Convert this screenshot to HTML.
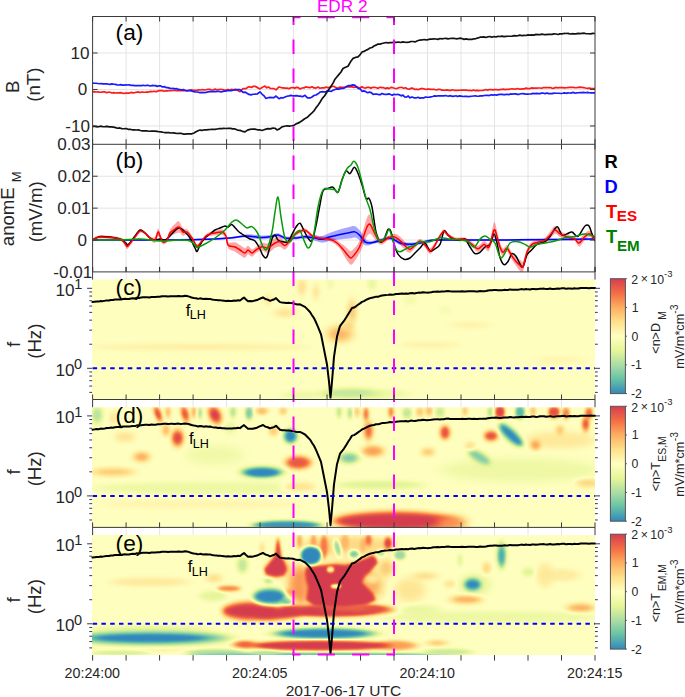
<!DOCTYPE html><html><head><meta charset="utf-8"><style>html,body{margin:0;padding:0;background:#fff;overflow:hidden}svg{display:block}</style></head><body>
<svg width="685" height="697" viewBox="0 0 685 697">
<defs>
<filter id="cmap" x="0" y="0" width="1" height="1" color-interpolation-filters="sRGB"><feComponentTransfer><feFuncR type="table" tableValues="0.1961 0.4000 0.6706 0.9020 1.0000 0.9961 0.9922 0.9569 0.8353"/><feFuncG type="table" tableValues="0.5333 0.7608 0.8667 0.9608 1.0000 0.8784 0.6824 0.4275 0.2431"/><feFuncB type="table" tableValues="0.7412 0.6471 0.6431 0.5961 0.7490 0.5451 0.3804 0.2627 0.3098"/></feComponentTransfer></filter>
<linearGradient id="cbar" x1="0" y1="1" x2="0" y2="0"><stop offset="0.0000" stop-color="#3288bd"/><stop offset="0.1250" stop-color="#66c2a5"/><stop offset="0.2500" stop-color="#abdda4"/><stop offset="0.3750" stop-color="#e6f598"/><stop offset="0.5000" stop-color="#ffffbf"/><stop offset="0.6250" stop-color="#fee08b"/><stop offset="0.7500" stop-color="#fdae61"/><stop offset="0.8750" stop-color="#f46d43"/><stop offset="1.0000" stop-color="#d53e4f"/></linearGradient>
<clipPath id="clip0"><rect x="92.1" y="279.6" width="502.9" height="120"/></clipPath>
<clipPath id="clip1"><rect x="92.1" y="407.2" width="502.9" height="120"/></clipPath>
<clipPath id="clip2"><rect x="92.1" y="535.1" width="502.9" height="120"/></clipPath>
<clipPath id="clipAB"><rect x="92.6" y="16.5" width="502.4" height="255.4"/></clipPath>
<filter id="b6_2" x="-100%" y="-100%" width="300%" height="300%" color-interpolation-filters="sRGB"><feGaussianBlur stdDeviation="6 2"/></filter>
<filter id="b4_2" x="-100%" y="-100%" width="300%" height="300%" color-interpolation-filters="sRGB"><feGaussianBlur stdDeviation="4 2"/></filter>
<filter id="b2_3" x="-100%" y="-100%" width="300%" height="300%" color-interpolation-filters="sRGB"><feGaussianBlur stdDeviation="2 3"/></filter>
<filter id="b2_2" x="-100%" y="-100%" width="300%" height="300%" color-interpolation-filters="sRGB"><feGaussianBlur stdDeviation="2 2"/></filter>
<filter id="b4_3" x="-100%" y="-100%" width="300%" height="300%" color-interpolation-filters="sRGB"><feGaussianBlur stdDeviation="4 3"/></filter>
<filter id="b2_4" x="-100%" y="-100%" width="300%" height="300%" color-interpolation-filters="sRGB"><feGaussianBlur stdDeviation="2 4"/></filter>
<filter id="b5_2" x="-100%" y="-100%" width="300%" height="300%" color-interpolation-filters="sRGB"><feGaussianBlur stdDeviation="5 2"/></filter>
<filter id="b8_2" x="-100%" y="-100%" width="300%" height="300%" color-interpolation-filters="sRGB"><feGaussianBlur stdDeviation="8 2"/></filter>
<filter id="b8_4" x="-100%" y="-100%" width="300%" height="300%" color-interpolation-filters="sRGB"><feGaussianBlur stdDeviation="8 4"/></filter>
<filter id="b5_4" x="-100%" y="-100%" width="300%" height="300%" color-interpolation-filters="sRGB"><feGaussianBlur stdDeviation="5 4"/></filter>
<filter id="b5_3" x="-100%" y="-100%" width="300%" height="300%" color-interpolation-filters="sRGB"><feGaussianBlur stdDeviation="5 3"/></filter>
<filter id="b3_2" x="-100%" y="-100%" width="300%" height="300%" color-interpolation-filters="sRGB"><feGaussianBlur stdDeviation="3 2"/></filter>
<filter id="b1p5_3" x="-100%" y="-100%" width="300%" height="300%" color-interpolation-filters="sRGB"><feGaussianBlur stdDeviation="1.5 3"/></filter>
<filter id="b1p5_2" x="-100%" y="-100%" width="300%" height="300%" color-interpolation-filters="sRGB"><feGaussianBlur stdDeviation="1.5 2"/></filter>
<filter id="b2_1p5" x="-100%" y="-100%" width="300%" height="300%" color-interpolation-filters="sRGB"><feGaussianBlur stdDeviation="2 1.5"/></filter>
<filter id="b1p5_1p5" x="-100%" y="-100%" width="300%" height="300%" color-interpolation-filters="sRGB"><feGaussianBlur stdDeviation="1.5 1.5"/></filter>
<filter id="b3_1p5" x="-100%" y="-100%" width="300%" height="300%" color-interpolation-filters="sRGB"><feGaussianBlur stdDeviation="3 1.5"/></filter>
<filter id="b2p5_2" x="-100%" y="-100%" width="300%" height="300%" color-interpolation-filters="sRGB"><feGaussianBlur stdDeviation="2.5 2"/></filter>
<filter id="b4_1p5" x="-100%" y="-100%" width="300%" height="300%" color-interpolation-filters="sRGB"><feGaussianBlur stdDeviation="4 1.5"/></filter>
<filter id="b5_2p5" x="-100%" y="-100%" width="300%" height="300%" color-interpolation-filters="sRGB"><feGaussianBlur stdDeviation="5 2.5"/></filter>
<filter id="b4_4" x="-100%" y="-100%" width="300%" height="300%" color-interpolation-filters="sRGB"><feGaussianBlur stdDeviation="4 4"/></filter>
<filter id="b6_1p5" x="-100%" y="-100%" width="300%" height="300%" color-interpolation-filters="sRGB"><feGaussianBlur stdDeviation="6 1.5"/></filter>
<filter id="b8_1p5" x="-100%" y="-100%" width="300%" height="300%" color-interpolation-filters="sRGB"><feGaussianBlur stdDeviation="8 1.5"/></filter>
<filter id="b5_1p2" x="-100%" y="-100%" width="300%" height="300%" color-interpolation-filters="sRGB"><feGaussianBlur stdDeviation="5 1.2"/></filter>
<filter id="b5_1p5" x="-100%" y="-100%" width="300%" height="300%" color-interpolation-filters="sRGB"><feGaussianBlur stdDeviation="5 1.5"/></filter>
<filter id="b5_0p8" x="-100%" y="-100%" width="300%" height="300%" color-interpolation-filters="sRGB"><feGaussianBlur stdDeviation="5 0.8"/></filter>
<filter id="b4_1p2" x="-100%" y="-100%" width="300%" height="300%" color-interpolation-filters="sRGB"><feGaussianBlur stdDeviation="4 1.2"/></filter>
<filter id="b3_3" x="-100%" y="-100%" width="300%" height="300%" color-interpolation-filters="sRGB"><feGaussianBlur stdDeviation="3 3"/></filter>
<filter id="b2p5_2p5" x="-100%" y="-100%" width="300%" height="300%" color-interpolation-filters="sRGB"><feGaussianBlur stdDeviation="2.5 2.5"/></filter>
<filter id="b5_5" x="-100%" y="-100%" width="300%" height="300%" color-interpolation-filters="sRGB"><feGaussianBlur stdDeviation="5 5"/></filter>
<filter id="b1p2_1p2" x="-100%" y="-100%" width="300%" height="300%" color-interpolation-filters="sRGB"><feGaussianBlur stdDeviation="1.2 1.2"/></filter>
<filter id="b1p2_1" x="-100%" y="-100%" width="300%" height="300%" color-interpolation-filters="sRGB"><feGaussianBlur stdDeviation="1.2 1"/></filter>
<filter id="b1p5_2p5" x="-100%" y="-100%" width="300%" height="300%" color-interpolation-filters="sRGB"><feGaussianBlur stdDeviation="1.5 2.5"/></filter>
</defs>
<rect width="685" height="697" fill="#fff"/>
<path d="M126.09,16.5 V271.9 M126.09,271.9 V279.6 M126.09,399.5 V407.2 M126.09,527.4 V535.1 M159.59,16.5 V271.9 M159.59,271.9 V279.6 M159.59,399.5 V407.2 M159.59,527.4 V535.1 M193.08,16.5 V271.9 M193.08,271.9 V279.6 M193.08,399.5 V407.2 M193.08,527.4 V535.1 M226.57,16.5 V271.9 M226.57,271.9 V279.6 M226.57,399.5 V407.2 M226.57,527.4 V535.1 M260.07,16.5 V271.9 M260.07,271.9 V279.6 M260.07,399.5 V407.2 M260.07,527.4 V535.1 M293.56,16.5 V271.9 M293.56,271.9 V279.6 M293.56,399.5 V407.2 M293.56,527.4 V535.1 M327.05,16.5 V271.9 M327.05,271.9 V279.6 M327.05,399.5 V407.2 M327.05,527.4 V535.1 M360.55,16.5 V271.9 M360.55,271.9 V279.6 M360.55,399.5 V407.2 M360.55,527.4 V535.1 M394.04,16.5 V271.9 M394.04,271.9 V279.6 M394.04,399.5 V407.2 M394.04,527.4 V535.1 M427.53,16.5 V271.9 M427.53,271.9 V279.6 M427.53,399.5 V407.2 M427.53,527.4 V535.1 M461.03,16.5 V271.9 M461.03,271.9 V279.6 M461.03,399.5 V407.2 M461.03,527.4 V535.1 M494.52,16.5 V271.9 M494.52,271.9 V279.6 M494.52,399.5 V407.2 M494.52,527.4 V535.1 M528.01,16.5 V271.9 M528.01,271.9 V279.6 M528.01,399.5 V407.2 M528.01,527.4 V535.1 M561.51,16.5 V271.9 M561.51,271.9 V279.6 M561.51,399.5 V407.2 M561.51,527.4 V535.1 M92.6,52.99 H595 M92.6,89.47 H595 M92.6,125.96 H595 M92.6,176.23 H595 M92.6,208.15 H595 M92.6,240.07 H595" stroke="#e4e4e4" stroke-width="1" fill="none"/>
<g clip-path="url(#clipAB)">
<path d="M92.5,91.8 L94.26,91.63 L96.03,91.98 L97.79,91.89 L99.55,92.17 L101.32,92.26 L103.08,91.82 L104.84,91.84 L106.61,92.65 L108.37,92.2 L110.13,92.25 L111.89,93 L113.66,92.59 L115.42,92.99 L117.18,92.74 L118.95,92.95 L120.71,92.58 L122.47,93.08 L124.24,93.36 L126,93.12 L127.74,93.21 L129.47,93.03 L131.21,92.38 L132.95,92.89 L134.68,92.63 L136.42,92.26 L138.16,91.9 L139.89,92.54 L141.63,92.08 L143.37,92.19 L145.11,92.23 L146.84,91.97 L148.58,92.04 L150.32,91.46 L152.05,91.71 L153.79,91.28 L155.53,91.61 L157.26,91.45 L159,90.64 L160.75,90.62 L162.5,90.65 L164.25,91.27 L166,90.74 L167.75,90.86 L169.5,90.52 L171.25,90.66 L173,90.5 L174.75,90.42 L176.5,90.58 L178.25,90.53 L180,90.76 L181.88,90.5 L183.75,90.66 L185.62,90.53 L187.5,90.59 L189.38,90.24 L191.25,89.72 L193.12,90.29 L195,90.32 L196.82,90.23 L198.64,89.89 L200.45,89.98 L202.27,89.49 L204.09,90.02 L205.91,89.75 L207.73,89.45 L209.55,89.22 L211.36,89.89 L213.18,89.98 L215,89.13 L216.88,89.82 L218.75,89.52 L220.62,89.34 L222.5,89.51 L224.38,89.99 L226.25,90.14 L228.12,89.44 L230,90 L231.75,89.37 L233.5,89.85 L235.25,89.22 L237,90.09 L240,91.67 L243,88.71 L246,88.7 L247.8,87.28 L249.6,86.68 L251.4,87.44 L253.2,86.24 L255,86.36 L257.5,87.63 L260,88.9 L262.5,87.18 L265,86.08 L266.75,87.79 L268.5,87.01 L270.25,88.4 L272,88.51 L274,88.63 L276,89.83 L279,86.94 L281,87.56 L283,87.87 L285,88.21 L287,88.19 L289,88.64 L291,87.74 L293,87.48 L294.75,88.12 L296.5,87.38 L298.25,87.62 L300,88.96 L302,88.02 L304,87.95 L306,86.86 L308,87.47 L310,87.64 L312,86.74 L314,87.91 L316,88.04 L318,87.11 L320,88.23 L322,87.74 L324,87.92 L326,87.13 L328,87.57 L330,87.43 L332,86.24 L334,86.41 L336,87.62 L338,88.23 L340,87.05 L342,87.32 L344,87.47 L346,86.88 L348,86.86 L350,86.66 L352,86.86 L354,87.37 L356,86.94 L358,87.18 L360,87.99 L361.82,86.69 L363.64,87.72 L365.45,88.06 L367.27,87.34 L369.09,87.23 L370.91,88.32 L372.73,87.35 L374.55,87.3 L376.36,87.79 L378.18,88.31 L380,87.28 L381.82,87.68 L383.64,87.7 L385.45,88.6 L387.27,87.89 L389.09,88.64 L390.91,87.4 L392.73,87.71 L394.55,88.27 L396.36,88.69 L398.18,87.91 L400,87.51 L401.88,87.43 L403.75,88.28 L405.62,87.78 L407.5,89 L409.38,89.17 L411.25,88.11 L413.12,88.39 L415,89.45 L416.79,89.21 L418.57,89.57 L420.36,88.79 L422.14,88.46 L423.93,88.81 L425.71,89.51 L427.5,89.09 L429.29,89.22 L431.07,89.34 L432.86,89.4 L434.64,89.45 L436.43,89.96 L438.21,89.33 L440,89.25 L441.76,90.15 L443.53,90.14 L445.29,90.28 L447.06,89.83 L448.82,90.34 L450.59,90.37 L452.35,89.78 L454.12,90.3 L455.88,90.43 L457.65,90.32 L459.41,90.23 L461.18,90.07 L462.94,90.17 L464.71,90.11 L466.47,90.02 L468.24,90.53 L470,90.31 L471.76,90.72 L473.53,89.97 L475.29,90.69 L477.06,90.44 L478.82,90.59 L480.59,90.5 L482.35,90.45 L484.12,90.1 L485.88,89.53 L487.65,90.13 L489.41,89.56 L491.18,89.61 L492.94,89.88 L494.71,89.7 L496.47,89.54 L498.24,89.95 L500,89.6 L501.74,89.29 L503.48,89.15 L505.22,89.63 L506.96,89.22 L508.7,89.43 L510.43,88.98 L512.17,88.77 L513.91,89.01 L515.65,89.2 L517.39,88.55 L519.13,89.05 L520.87,89.1 L522.61,88.93 L524.35,88.88 L526.09,88.08 L527.83,88.57 L529.57,88.72 L531.3,87.92 L533.04,88.06 L534.78,87.99 L536.52,88.15 L538.26,88 L540,87.98 L541.74,88.23 L543.48,87.51 L545.22,87.53 L546.96,87.58 L548.7,87.55 L550.43,87.48 L552.17,88.28 L553.91,88.15 L555.65,87.43 L557.39,87.78 L559.13,87.6 L560.87,87.57 L562.61,87.58 L564.35,87.83 L566.09,87.75 L567.83,87.53 L569.57,87.35 L571.3,87.45 L573.04,87.25 L574.78,87.62 L576.52,87.74 L578.26,87.41 L580,87.12 L581.88,87.35 L583.75,87.66 L585.62,88.01 L587.5,88.3 L589.38,88.08 L591.25,88.6 L593.12,88.57 L595,88.6" fill="none" stroke="#ff1a1a" stroke-width="1.7" stroke-linejoin="round" stroke-linecap="round" />
<path d="M92.5,83.2 L94.26,83.23 L96.03,83.27 L97.79,83.48 L99.55,83.76 L101.32,83.6 L103.08,83.94 L104.84,83.83 L106.61,83.73 L108.37,84.08 L110.13,84.32 L111.89,83.86 L113.66,84.27 L115.42,84.36 L117.18,84.87 L118.95,85.01 L120.71,84.6 L122.47,85.17 L124.24,85.17 L126,84.79 L127.74,85.03 L129.47,84.78 L131.21,85.46 L132.95,85.38 L134.68,85.64 L136.42,85.61 L138.16,85.56 L139.89,85.67 L141.63,85.58 L143.37,85.22 L145.11,85.72 L146.84,85.25 L148.58,85.43 L150.32,86.06 L152.05,85.46 L153.79,85.56 L155.53,85.62 L157.26,86.38 L159,85.81 L160.75,85.95 L162.5,86.97 L164.25,86.61 L166,87.54 L167.75,87.67 L169.5,88.1 L171.25,88.49 L173,88.44 L174.75,88.92 L176.5,88.52 L178.25,89.46 L180,89.51 L181.88,89.96 L183.75,89.67 L185.62,90.51 L187.5,90.94 L189.38,90.42 L191.25,90.92 L193.12,91.4 L195,91.9 L197.5,92.02 L200,92.61 L202,92.45 L204,92.56 L206,92.47 L208,91.92 L210,91.68 L212,91.67 L214,91.59 L216,91.61 L218,91.26 L220,91.6 L221.88,91.81 L223.75,91.1 L225.62,91.19 L227.5,90.44 L229.38,90.71 L231.25,90.56 L233.12,90.27 L235,89.93 L237.5,89.62 L240,89.66 L243,92.32 L245,92.12 L247,93.17 L249,94.45 L251,94.85 L253,94.23 L255,94.2 L257.5,93.79 L260,91.93 L262,94.01 L264,95.83 L266,98.45 L268,97.72 L270,97.32 L272,97.68 L274,97.68 L276,96.03 L279,98.67 L281,97.68 L283,98 L285,97.05 L287,96.26 L289,95.94 L291,95.37 L293,95.96 L294.75,95.89 L296.5,95.61 L298.25,96.05 L300,96.08 L302.5,96.69 L305,95.36 L307.5,97.88 L310,97.96 L312,96.98 L314,95.54 L316,95 L318,93.78 L320,92.1 L321.88,91.72 L323.75,91.9 L325.62,91.89 L327.5,90.82 L329.38,91.17 L331.25,91.33 L333.12,90.19 L335,89.51 L337,88.92 L339,89.19 L341,88.52 L343,88.43 L345,87.64 L347,86.14 L349,85.64 L351,85.37 L353,84.84 L355,85.37 L356.75,87.07 L358.5,88.57 L360.25,88.83 L362,91.36 L363.86,90.89 L365.71,91.62 L367.57,92.7 L369.43,92.07 L371.29,92.61 L373.14,94.47 L375,94.03 L376.73,94.14 L378.45,94.54 L380.18,94.72 L381.91,93.51 L383.64,94.1 L385.36,94.29 L387.09,94.37 L388.82,93.88 L390.55,94.55 L392.27,95.22 L394,94.2 L395.78,94.77 L397.56,94.29 L399.33,94.86 L401.11,95.85 L402.89,95.15 L404.67,96.83 L406.44,97.16 L408.22,95.99 L410,97.79 L412,96.93 L414,97.81 L416,97.94 L418,97.27 L420,98.12 L421.82,97.89 L423.64,97.97 L425.45,97.02 L427.27,97.27 L429.09,97.26 L430.91,96.81 L432.73,96.5 L434.55,95.92 L436.36,96.08 L438.18,95.76 L440,95.9 L441.76,95.91 L443.53,95.85 L445.29,95.55 L447.06,96.02 L448.82,96.05 L450.59,95.69 L452.35,96.38 L454.12,96.22 L455.88,95.78 L457.65,96.56 L459.41,95.89 L461.18,96.11 L462.94,96.51 L464.71,96.45 L466.47,96.46 L468.24,96.59 L470,96.46 L471.76,96.22 L473.53,95.99 L475.29,95.78 L477.06,96.25 L478.82,96.17 L480.59,95.87 L482.35,95.93 L484.12,95.48 L485.88,95.28 L487.65,95.28 L489.41,95.61 L491.18,94.75 L492.94,95.05 L494.71,94.71 L496.47,95.07 L498.24,94.58 L500,94.45 L501.74,94.47 L503.48,94.54 L505.22,94.7 L506.96,94.28 L508.7,94.67 L510.43,93.96 L512.17,94.06 L513.91,93.86 L515.65,93.82 L517.39,94.37 L519.13,94.28 L520.87,93.74 L522.61,93.7 L524.35,93.86 L526.09,94.1 L527.83,94.12 L529.57,94.01 L531.3,93.82 L533.04,93.37 L534.78,93.55 L536.52,93.32 L538.26,93.57 L540,93.56 L541.74,93.2 L543.48,93.21 L545.22,93.65 L546.96,92.94 L548.7,93.6 L550.43,93.64 L552.17,93.66 L553.91,93.12 L555.65,93.23 L557.39,93.23 L559.13,93.24 L560.87,93.51 L562.61,93.22 L564.35,92.83 L566.09,93.3 L567.83,92.93 L569.57,93 L571.3,93.08 L573.04,92.39 L574.78,93.05 L576.52,92.92 L578.26,92.73 L580,92.72 L581.88,92.68 L583.75,92.45 L585.62,92.76 L587.5,92.33 L589.38,92.76 L591.25,92.91 L593.12,92.74 L595,92.8" fill="none" stroke="#1a1aff" stroke-width="1.7" stroke-linejoin="round" stroke-linecap="round" />
<path d="M92.5,126.3 L94.58,126.39 L96.67,126.78 L98.75,126.75 L100.83,126.11 L102.92,126.73 L105,126.61 L107.1,126.33 L109.2,126.83 L111.3,126.95 L113.4,127.04 L115.5,127.68 L117.6,128.27 L119.7,127.95 L121.8,128.67 L123.9,128.75 L126,128.47 L128.06,129.32 L130.12,129.29 L132.19,129.78 L134.25,129.79 L136.31,130.02 L138.38,129.86 L140.44,130.48 L142.5,130.79 L144.56,130.93 L146.62,130.74 L148.69,131.23 L150.75,131.19 L152.81,131.05 L154.88,131.19 L156.94,131.42 L159,131.73 L161,131.84 L163,132.28 L165,132.61 L167,132.61 L169,132.64 L171,132.99 L173,132.82 L175,133.11 L177,133.52 L179,133.34 L181,133.28 L183,134.07 L185,134.05 L187,133.88 L189.5,133.78 L192,133.83 L194,133.01 L196,131.8 L198,130.73 L200,130.04 L202.14,130.44 L204.29,129.75 L206.43,129.92 L208.57,129.57 L210.71,129.47 L212.86,129.32 L215,129.41 L217.2,129 L219.4,128.67 L221.6,128.55 L223.8,128.4 L226,128.49 L228.25,128.23 L230.5,128.32 L232.75,128.83 L235,128.92 L237.5,130.08 L240,130.4 L242.5,131.31 L245,131.91 L247.5,130.07 L250,129.42 L252.5,129 L255,129.13 L257.33,129.78 L259.67,129.8 L262,130.51 L264,129.8 L266,129.13 L268,128.6 L270.33,128.87 L272.67,128.13 L275,128.26 L277,129.97 L279.5,128.89 L282,126.82 L284.5,126.27 L287,125.79 L289.33,126.12 L291.67,125.78 L294,125.36 L296,123.87 L298,123.13 L300,122.12 L302.33,120.55 L304.67,118.79 L307,117.58 L309.33,115.4 L311.67,113.24 L314,110.88 L316,107.77 L318,105.17 L320,102.26 L322.33,98.33 L324.67,95.73 L327,91.98 L329,89.17 L331,86.18 L333,83.1 L335,79.18 L337,76.75 L339,74.35 L341,71.98 L343,68.53 L345.5,67.21 L348,66.21 L350.5,61.85 L353,58.4 L355.5,57.45 L358,56.86 L360,54.89 L362,52.01 L364,51.44 L366,50.36 L368,49.38 L370,48.05 L372,47.46 L374,46.03 L376,45.15 L378,44.06 L380,44.18 L382,43.53 L384,42.97 L386,42.5 L388,42.87 L390,42.65 L392,42.61 L394,42.2 L396.2,42.29 L398.4,41.99 L400.6,42.49 L402.8,41.87 L405,42.27 L407,42.39 L409,42.18 L411,41.52 L413,41.5 L415,41.91 L417.5,40.78 L420,40.04 L422,39.96 L424,39.49 L426,39.82 L428,39.59 L430,39.15 L432,39.1 L434,38.75 L436,38.97 L438,39.39 L440,38.54 L442,38.93 L444,38.49 L446,38.43 L448,38.91 L450,38.52 L452,38.31 L454,38.38 L456,38.79 L458,38.71 L460,38.16 L462,38.54 L464,39.38 L466,38.89 L468,39.38 L470,39.43 L472,39.35 L474,38.79 L476,38.56 L478,37.93 L480,37.22 L482,37.11 L484,36.92 L486,37.49 L488,36.75 L490,36.57 L492,37.32 L494,36.53 L496,37.05 L498,36.23 L500,36.47 L502,36.15 L504,36.6 L506,36.3 L508,36.23 L510,36.24 L512,36.23 L514,35.66 L516,35.79 L518,35.55 L520,35.15 L522,35.71 L524,35.4 L526,35.51 L528,34.88 L530,35.09 L532,34.93 L534,35.08 L536,34.4 L538,34.55 L540,34.59 L542,34.15 L544,34.53 L546,34.63 L548,34.29 L550,34.43 L552,34.34 L554,33.92 L556,33.99 L558,34.51 L560,33.85 L562,33.86 L564,33.47 L566,33.51 L568,33.38 L570,33.99 L572,33.72 L574,33.78 L576,33.8 L578,33.38 L580,33.59 L582.14,33.28 L584.29,33.21 L586.43,33.73 L588.57,33.73 L590.71,33.82 L592.86,33.44 L595,33.5" fill="none" stroke="#111" stroke-width="1.7" stroke-linejoin="round" stroke-linecap="round" />
<path d="M92.5,238.5 L93.07,238.19 L93.73,237.72 L94.53,237.16 L95.52,236.59 L96.73,236.08 L98.21,235.69 L100,235.5 L100.73,235.48 L101.56,235.48 L102.46,235.49 L103.42,235.52 L104.45,235.55 L105.52,235.61 L106.63,235.67 L107.77,235.75 L108.93,235.84 L110.09,235.94 L111.26,236.05 L112.41,236.17 L113.54,236.31 L114.64,236.45 L115.69,236.6 L116.7,236.76 L117.64,236.94 L118.51,237.12 L119.3,237.3 L120,237.5 L121.86,237.86 L123.19,238.59 L124.12,239.53 L124.81,240.52 L125.39,241.39 L126,242 L126.94,243.67 L128,243.5 L128.76,242.9 L129.69,241.99 L130.76,240.7 L131.88,239.22 L133,237.72 L134.06,236.32 L135,235.12 L136.13,233.63 L137.14,232.18 L138.1,230.88 L139.03,229.87 L140,229.25 L141,229.11 L142,229.38 L143,229.93 L144,230.63 L145,231.38 L146,232.26 L147,233.35 L148,234.52 L149,235.62 L150,236.5 L151.03,236.93 L152.1,237.34 L153.14,237.58 L154.13,237.5 L155,236.94 L156.19,234.2 L157.15,230.41 L158,228 L159,229.41 L160,232.57 L160.89,234.97 L161.89,237.63 L163,239.43 L163.95,239.88 L165,239.81 L166.05,238.74 L167,237.43 L168,235.07 L168.89,232.19 L170,229.57 L170.89,228.29 L171.9,227.12 L172.98,225.99 L174.03,224.95 L175,224 L176.07,222.84 L177.06,221.75 L178.02,220.97 L179,221.43 L180,222.73 L181,224.66 L182,226.65 L183,228.14 L183.98,228.77 L184.94,228.91 L185.93,228.79 L187,229.2 L187.95,230.1 L188.98,231.32 L190.02,232.74 L191.05,234.24 L192,235.7 L193.12,237.63 L194.19,239.73 L195.16,241.66 L196,243.1 L196.81,244.68 L198,244.3 L198.76,243.56 L199.69,242.45 L200.76,240.99 L201.88,239.36 L203,237.76 L204.06,236.34 L205,235.23 L206.13,234.16 L207.14,233.39 L208.1,232.83 L209.03,232.39 L210,231.96 L210.97,231.58 L211.9,231.32 L212.86,231.12 L213.87,230.92 L215,230.7 L215.92,230.46 L216.94,230.16 L218.02,229.84 L219.1,229.56 L220.16,229.34 L221.14,229.25 L222,229.32 L223.26,229.79 L224.31,230.57 L225.21,231.68 L226,233.11 L226.81,237.69 L228,242 L228.76,242.46 L229.69,242.63 L230.76,242.61 L231.88,242.47 L233,242.31 L234.06,242.21 L235,242.25 L236.13,242.54 L237.14,243.13 L238.1,243.75 L239.03,244.38 L240,245 L241.03,245.7 L242.1,246.49 L243.14,247.23 L244.13,247.81 L245,248.17 L246.11,247.57 L247,246.28 L248,245.67 L248.93,246.29 L249.94,247.49 L250.98,248.69 L252,249.33 L252.95,249.17 L253.88,248.53 L254.86,247.71 L256,247 L256.88,246.28 L257.85,245.48 L258.88,244.66 L259.93,243.89 L260.98,243.25 L262,242.8 L262.99,242.69 L263.96,242.86 L264.94,243.15 L265.93,243.41 L266.94,243.49 L268,243.25 L268.97,242.71 L269.99,241.91 L271.03,241.09 L272.09,240.2 L273.12,239.33 L274.1,238.57 L275,238 L276.13,237.44 L277.14,237.01 L278.1,236.74 L279.03,236.67 L280,236.8 L281,237.56 L282,238.74 L283,240 L284,241.03 L285,241.5 L286,241.29 L287,240.62 L288,239.67 L289,238.6 L290,237.6 L290.97,236.5 L291.9,235.29 L292.86,234.06 L293.87,232.89 L295,231.9 L295.92,231.29 L296.94,230.72 L298.02,230.21 L299.1,229.75 L300.16,229.34 L301.14,228.95 L302,228.65 L303.16,228.29 L304.06,228.15 L304.93,228.28 L306,228.75 L306.88,229.35 L307.85,230.19 L308.88,231.17 L309.93,232.19 L310.98,233.13 L312,233.9 L312.93,234.49 L313.78,234.98 L314.62,235.4 L315.56,235.77 L316.65,236.11 L318,236.45 L318.81,236.61 L319.71,236.75 L320.7,236.79 L321.74,236.8 L322.83,236.79 L323.94,236.77 L325.05,236.77 L326.15,236.77 L327.21,236.79 L328.22,236.84 L329.16,236.92 L330,237.05 L331.27,237.33 L332.39,237.68 L333.4,238.08 L334.33,238.53 L335.22,239.04 L336.1,239.61 L337,240.22 L338.07,241.05 L339.11,241.98 L340.12,242.93 L341.11,243.56 L342.07,244.19 L343,244.8 L344.1,245.56 L345.17,246.38 L346.19,247.26 L347.14,248.31 L348,249.17 L349.11,250.33 L350,251.12 L351,251.17 L351.93,250.52 L352.94,249.69 L353.98,248.62 L355,247.5 L356,246.4 L357,245.21 L358,243.83 L359,241.67 L360,239.14 L361,236.31 L362,233.33 L363,230.33 L364.02,227.11 L365.06,223.61 L366.07,220.35 L367,217.8 L368.04,215.52 L368.96,214.21 L370,215.2 L370.93,217.13 L371.94,219.93 L372.98,223.06 L374,226 L375,228.46 L376,230.97 L377,233.32 L378,235.3 L378.95,236.89 L379.88,238.18 L380.86,238.82 L382,239 L382.88,238.79 L383.85,238.29 L384.88,237.62 L385.93,236.9 L386.98,236.25 L388,235.8 L389,235.49 L390,235.22 L391,234.68 L392,234.23 L393,233.93 L394,233.8 L395,233.87 L396,234.11 L397,234.49 L398,234.97 L399,235.77 L400,236.6 L401.02,237.54 L402.07,238.63 L403.12,239.78 L404.15,240.92 L405.12,241.95 L406,242.8 L407.12,244.02 L408.06,245.02 L408.98,245.7 L410,245.97 L410.94,245.78 L411.93,245.26 L412.95,244.49 L413.98,243.65 L415,242.88 L416,242.01 L417,240.97 L418,239.97 L419,239.24 L420,239 L421,239.12 L422,239.69 L423,240.55 L424,241.54 L425,242.5 L426,243.66 L427,245.13 L428,246.57 L429,247.64 L430,248 L431,247.72 L432,246.81 L433,245.49 L434,243.98 L435,242.5 L436.02,240.93 L437.05,239.12 L438.07,237.25 L439.06,235.49 L440,234 L441.07,232.33 L442.06,230.85 L443.02,229.77 L444,229.3 L444.93,229.66 L445.81,230.7 L446.79,232 L448,233.2 L448.84,233.82 L449.78,234.49 L450.79,235.18 L451.84,235.85 L452.91,236.47 L453.97,236.99 L455,237.38 L456.02,237.6 L457.06,237.68 L458.1,237.66 L459.14,237.59 L460.15,237.5 L461.1,237.37 L462,237.33 L463.13,237.39 L464.14,237.49 L465.1,237.66 L466.03,237.93 L467,238.32 L467.98,238.86 L468.95,239.55 L469.93,240.32 L470.94,241.12 L472,241.9 L472.94,242.63 L473.93,243.5 L474.94,244.38 L475.96,245.14 L476.99,245.66 L478,245.8 L479.01,245.41 L480.04,244.56 L481.06,243.46 L482.07,242.33 L483.06,241.41 L484,240.9 L485.06,241.2 L486.07,242.2 L487.05,243.28 L488.02,243.79 L489,243.08 L490.03,240.45 L491.1,235.39 L492.14,229.9 L493.13,225.08 L494,222 L495.15,223.14 L496.07,226.72 L497,230.75 L498,234.9 L499,239.02 L500,242.57 L500.96,245.34 L501.93,247.54 L503,248.73 L503.91,248.36 L504.88,247.1 L505.91,245.59 L507,245.1 L507.95,245.86 L508.98,247.33 L510.02,249.15 L511.05,250.99 L512,252.5 L513.07,253.93 L514.06,255.19 L515.02,256.33 L516,257.17 L517.02,257.96 L518.06,258.68 L519.07,259.28 L520,259.73 L521.04,260.62 L521.96,261.94 L523,261.56 L523.91,259.3 L524.88,255.74 L525.91,251.91 L527,248.87 L527.89,247.17 L528.78,245.49 L529.74,244.02 L530.79,242.78 L532,241.73 L532.88,241.21 L533.86,240.81 L534.91,240.52 L536,240.3 L537.09,240.14 L538.14,240 L539.12,239.86 L540,239.7 L541.19,239.23 L542.22,238.93 L543.14,238.65 L544.05,238.26 L545,237.63 L546,236.69 L547,235.52 L548,234.24 L549,232.92 L550,231.66 L551,230.32 L552,228.84 L553,227.42 L554,226.6 L555,226.29 L555.98,226.64 L556.95,227.53 L557.93,228.7 L558.94,229.91 L560,230.9 L560.97,231.49 L562,232.04 L563.06,232.57 L564.11,233.05 L565.1,233.5 L566,233.9 L567.12,234.39 L568.06,234.77 L568.98,235.1 L570,235.47 L570.95,235.75 L571.98,235.99 L573.02,236.26 L574.05,236.61 L575,237.1 L576.02,237.73 L576.94,238.76 L577.88,239.54 L579,239.4 L579.9,238.52 L580.89,237.55 L581.94,236.35 L583,235.06 L584.03,233.88 L585,233 L586.06,232.19 L587.07,231.45 L588.05,230.9 L589.02,230.68 L590,230.9 L591.08,231.94 L592.24,233.6 L593.36,235.5 L594.32,237.23 L595,238.4 L595,242.4 L594.32,241.51 L593.36,240.16 L592.24,238.71 L591.08,237.51 L590,236.9 L589.02,236.87 L588.05,237.29 L587.07,238.04 L586.06,238.98 L585,240 L584.03,241.07 L583,242.46 L581.94,243.96 L580.89,245.37 L579.9,246.43 L579,246.6 L577.88,245.85 L576.94,244.31 L576.02,242.55 L575,241.1 L574.05,240.74 L573.02,240.52 L571.98,240.4 L570.95,240.29 L570,240.13 L568.98,239.91 L568.06,239.69 L567.12,239.44 L566,239.1 L565.1,238.82 L564.11,238.5 L563.06,238.16 L562,237.78 L560.97,237.36 L560,236.9 L558.94,236.21 L557.93,235.29 L556.95,234.4 L555.98,233.79 L555,233.71 L554,234.31 L553,235.42 L552,236.53 L551,237.71 L550,238.74 L549,239.69 L548,240.7 L547,241.68 L546,242.53 L545,243.17 L544.05,243.51 L543.14,243.62 L542.22,243.61 L541.19,243.6 L540,243.7 L539.12,244.01 L538.14,244.31 L537.09,244.62 L536,244.97 L534.91,245.37 L533.86,245.84 L532.88,246.4 L532,247.07 L530.79,248.31 L529.74,249.73 L528.78,251.36 L527.89,253.27 L527,255.73 L525.91,259.71 L524.88,264.41 L523.91,268.81 L523,271.84 L521.96,273.11 L521.04,272.59 L520,271.07 L519.07,270 L518.06,268.72 L517.02,267.31 L516,265.83 L515.02,264.34 L514.06,263.01 L513.07,261.55 L512,259.9 L511.05,258.2 L510.02,256.16 L508.98,254.13 L507.95,252.46 L507,251.5 L505.91,251.77 L504.88,253.17 L503.91,254.99 L503,255.87 L501.93,255.29 L500.96,253.65 L500,251.43 L499,248.45 L498,244.9 L497,242.25 L496.07,239.61 L495.15,237.42 L494,238 L493.13,239.34 L492.14,242.19 L491.1,245.58 L490.03,248.51 L489,250.92 L488.02,251.46 L487.05,250.79 L486.07,249.55 L485.06,248.37 L484,247.9 L483.06,248.25 L482.07,249.01 L481.06,249.97 L480.04,250.9 L479.01,251.58 L478,251.8 L476.99,251.49 L475.96,250.8 L474.94,249.87 L473.93,248.82 L472.94,247.79 L472,246.9 L470.94,245.94 L469.93,244.97 L468.95,244.04 L467.98,243.19 L467,242.48 L466.03,241.93 L465.1,241.51 L464.14,241.18 L463.13,240.91 L462,240.67 L461.1,240.55 L460.15,240.53 L459.14,240.63 L458.1,240.75 L457.06,240.82 L456.02,240.8 L455,240.62 L453.97,240.29 L452.91,239.82 L451.84,239.26 L450.79,238.64 L449.78,238 L448.84,237.37 L448,236.8 L446.79,235.66 L445.81,234.4 L444.93,233.42 L444,233.1 L443.02,233.62 L442.06,234.75 L441.07,236.28 L440,238 L439.06,239.67 L438.07,241.63 L437.05,243.71 L436.02,245.72 L435,247.5 L434,249.18 L433,250.89 L432,252.41 L431,253.52 L430,254 L429,253.44 L428,252.17 L427,250.53 L426,248.86 L425,247.5 L424,246.34 L423,245.15 L422,244.09 L421,243.32 L420,243 L419,243.49 L418,244.47 L417,245.72 L416,247.01 L415,248.12 L413.98,249.16 L412.95,250.25 L411.93,251.28 L410.94,252.13 L410,252.63 L408.98,252.71 L408.06,252.33 L407.12,251.65 L406,250.8 L405.12,249.95 L404.15,248.92 L403.12,247.78 L402.07,246.63 L401.02,245.54 L400,244.6 L399,243.77 L398,242.97 L397,241.99 L396,241.11 L395,240.37 L394,239.8 L393,239.43 L392,239.23 L391,239.18 L390,239.22 L389,239.69 L388,240.2 L386.98,240.86 L385.93,241.71 L384.88,242.64 L383.85,243.52 L382.88,244.21 L382,244.6 L380.86,244.64 L379.88,244.31 L378.95,243.93 L378,243.3 L377,242.32 L376,240.97 L375,239.46 L374,238 L372.98,236.7 L371.94,235.23 L370.93,234.05 L370,233.6 L368.96,234.19 L368.04,234.75 L367,236.2 L366.07,238.01 L365.06,240.46 L364.02,243.13 L363,245.67 L362,248 L361,250.31 L360,252.47 L359,254.33 L358,255.83 L357,257.54 L356,259.07 L355,260.5 L353.98,261.96 L352.94,263.38 L351.93,264.49 L351,264.83 L350,264.45 L349.11,263.37 L348,261.83 L347.14,260.69 L346.19,259.32 L345.17,257.55 L344.1,255.65 L343,253.8 L342.07,252.26 L341.11,250.67 L340.12,249.06 L339.11,247.84 L338.07,246.76 L337,245.78 L336.1,245.02 L335.22,244.32 L334.33,243.68 L333.4,243.09 L332.39,242.54 L331.27,242.03 L330,241.55 L329.16,241.3 L328.22,241.07 L327.21,240.87 L326.15,240.69 L325.05,240.52 L323.94,240.36 L322.83,240.21 L321.74,240.06 L320.7,239.9 L319.71,239.76 L318.81,239.67 L318,239.55 L316.65,239.28 L315.56,238.99 L314.62,238.67 L313.78,238.29 L312.93,237.84 L312,237.3 L310.98,236.58 L309.93,235.69 L308.88,234.73 L307.85,233.8 L306.88,233 L306,232.45 L304.93,232.04 L304.06,231.95 L303.16,232.14 L302,232.55 L301.14,232.89 L300.16,233.33 L299.1,233.93 L298.02,234.6 L296.94,235.33 L295.92,236.11 L295,236.9 L293.87,238.12 L292.86,239.48 L291.9,240.91 L290.97,242.31 L290,243.6 L289,245 L288,246.47 L287,247.82 L286,248.89 L285,249.5 L284,249.43 L283,248.8 L282,247.94 L281,247.16 L280,246.8 L279.03,246.67 L278.1,246.74 L277.14,247.01 L276.13,247.44 L275,248 L274.1,248.57 L273.12,249.33 L272.09,250.2 L271.03,251.09 L269.99,251.91 L268.97,252.45 L268,252.75 L266.94,252.73 L265.93,252.39 L264.94,251.88 L263.96,251.35 L262.99,250.94 L262,250.8 L260.98,250.91 L259.93,251.2 L258.88,251.62 L257.85,252.09 L256.88,252.57 L256,253 L254.86,254.09 L253.88,255.24 L252.95,256.18 L252,256.67 L250.98,256.37 L249.94,255.51 L248.93,254.65 L248,254.33 L247,255.28 L246.11,256.87 L245,257.83 L244.13,257.76 L243.14,257.23 L242.1,256.49 L241.03,255.7 L240,255 L239.03,254.38 L238.1,253.75 L237.14,253.13 L236.13,252.54 L235,251.75 L234.06,251.24 L233,250.81 L231.88,250.41 L230.76,249.98 L229.69,249.48 L228.76,248.83 L228,248 L226.81,243.56 L226,238.89 L225.21,237.38 L224.31,236.18 L223.26,235.28 L222,234.68 L221.14,234.51 L220.16,234.5 L219.1,234.6 L218.02,234.77 L216.94,234.98 L215.92,235.17 L215,235.3 L213.87,235.41 L212.86,235.49 L211.9,235.59 L210.97,235.76 L210,236.04 L209.03,236.36 L208.1,236.7 L207.14,237.15 L206.13,237.81 L205,238.77 L204.06,239.78 L203,241.09 L201.88,242.56 L200.76,244.07 L199.69,245.51 L198.76,246.81 L198,247.7 L196.81,248.32 L196,246.9 L195.16,245.63 L194.19,243.89 L193.12,242.01 L192,240.3 L191.05,239.04 L190.02,237.74 L188.98,236.52 L187.95,235.5 L187,234.8 L185.93,234.6 L184.94,234.96 L183.98,235.65 L183,235.86 L182,235.22 L181,234.09 L180,233.02 L179,232.57 L178.02,232.95 L177.06,233.12 L176.07,233.55 L175,234 L174.03,234.3 L172.98,234.64 L171.9,235.06 L170.89,235.66 L170,236.43 L168.89,238.41 L168,240.78 L167,242.57 L166.05,243.34 L165,243.81 L163.95,244.48 L163,244.57 L161.89,243.41 L160.89,241.32 L160,239.43 L159,236.84 L158,236 L157.15,237.88 L156.19,241.06 L155,243.06 L154.13,243.08 L153.14,242.55 L152.1,241.65 L151.03,240.57 L150,239.5 L149,238.67 L148,237.62 L147,236.5 L146,235.46 L145,234.62 L144,233.93 L143,233.28 L142,232.78 L141,232.56 L140,232.75 L139.03,233.41 L138.1,234.48 L137.14,235.82 L136.13,237.33 L135,238.88 L134.06,240.11 L133,241.57 L131.88,243.13 L130.76,244.67 L129.69,246.15 L128.76,247.52 L128,248.5 L126.94,249.2 L126,248 L125.39,247.09 L124.81,245.93 L124.12,244.59 L123.19,243.19 L121.86,241.79 L120,240.5 L119.3,240.3 L118.51,240.12 L117.64,239.94 L116.7,239.76 L115.69,239.6 L114.64,239.45 L113.54,239.31 L112.41,239.17 L111.26,239.05 L110.09,238.94 L108.93,238.84 L107.77,238.75 L106.63,238.67 L105.52,238.61 L104.45,238.55 L103.42,238.52 L102.46,238.49 L101.56,238.48 L100.73,238.48 L100,238.5 L98.21,238.69 L96.73,239.08 L95.52,239.59 L94.53,240.16 L93.73,240.72 L93.07,241.19 L92.5,241.5 Z" fill="#ff0000" fill-opacity="0.35" stroke="none"/>
<path d="M92.5,239.2 L93.02,239.2 L93.58,239.2 L94.18,239.2 L94.81,239.2 L95.47,239.2 L96.17,239.2 L96.89,239.2 L97.65,239.2 L98.44,239.2 L99.25,239.2 L100.1,239.2 L100.96,239.2 L101.86,239.2 L102.77,239.2 L103.72,239.2 L104.68,239.2 L105.66,239.2 L106.66,239.2 L107.69,239.2 L108.72,239.2 L109.78,239.2 L110.85,239.2 L111.94,239.2 L113.04,239.2 L114.15,239.2 L115.27,239.2 L116.41,239.2 L117.55,239.2 L118.7,239.2 L119.86,239.2 L121.02,239.19 L122.19,239.19 L123.37,239.19 L124.54,239.19 L125.72,239.19 L126.9,239.19 L128.08,239.19 L129.26,239.19 L130.43,239.19 L131.61,239.18 L132.77,239.18 L133.94,239.18 L135.09,239.18 L136.24,239.17 L137.38,239.17 L138.51,239.17 L139.63,239.17 L140.74,239.16 L141.83,239.16 L142.91,239.15 L143.98,239.15 L145.03,239.15 L146.06,239.14 L147.08,239.14 L148.07,239.13 L149.05,239.13 L150,239.12 L151.08,239.12 L152.15,239.11 L153.23,239.1 L154.31,239.1 L155.39,239.09 L156.48,239.08 L157.56,239.08 L158.64,239.07 L159.72,239.06 L160.8,239.06 L161.88,239.05 L162.96,239.04 L164.03,239.03 L165.11,239.03 L166.18,239.02 L167.25,239.01 L168.32,239 L169.38,238.99 L170.44,238.99 L171.5,238.98 L172.55,238.97 L173.6,238.96 L174.65,238.95 L175.68,238.94 L176.72,238.93 L177.75,238.92 L178.77,238.91 L179.79,238.9 L180.8,238.89 L181.8,238.87 L182.8,238.86 L183.79,238.85 L184.77,238.84 L185.74,238.82 L186.71,238.81 L187.66,238.8 L188.61,238.78 L189.55,238.77 L190.48,238.75 L191.4,238.74 L192.31,238.72 L193.21,238.71 L194.1,238.69 L194.98,238.67 L195.84,238.65 L196.7,238.63 L197.54,238.61 L198.37,238.6 L199.19,238.57 L200,238.55 L201.32,238.52 L202.61,238.48 L203.88,238.44 L205.12,238.4 L206.33,238.36 L207.52,238.32 L208.68,238.27 L209.83,238.23 L210.94,238.18 L212.04,238.13 L213.11,238.08 L214.16,238.03 L215.19,237.98 L216.2,237.93 L217.19,237.87 L218.16,237.82 L219.11,237.77 L220.04,237.71 L220.95,237.66 L221.85,237.6 L222.73,237.54 L223.6,237.48 L224.45,237.43 L225.28,237.37 L226.1,237.31 L226.91,237.25 L227.7,237.19 L228.48,237.13 L229.24,237.07 L230,237.01 L231.45,236.89 L232.79,236.75 L234.04,236.6 L235.21,236.44 L236.3,236.27 L237.32,236.11 L238.29,235.94 L239.2,235.78 L240.08,235.61 L240.93,235.39 L241.75,235.17 L242.56,234.97 L243.37,234.79 L244.18,234.64 L245,234.5 L246.22,234.35 L247.37,234.25 L248.46,234.19 L249.5,234.17 L250.5,234.24 L251.46,234.37 L252.38,234.5 L253.27,234.63 L254.14,234.75 L255,234.85 L256.15,234.98 L257.19,235.12 L258.16,235.26 L259.09,235.39 L260.01,235.51 L260.97,235.58 L262,235.62 L262.95,235.62 L263.93,235.59 L264.93,235.54 L265.94,235.47 L266.96,235.37 L267.98,235.26 L268.99,235.14 L270,235 L271.01,234.8 L272.02,234.54 L273.04,234.23 L274.06,233.91 L275.07,233.62 L276.07,233.4 L277.05,233.27 L278,233.28 L279.03,233.49 L279.99,233.89 L280.91,234.42 L281.84,234.99 L282.81,235.55 L283.85,236.03 L285,236.35 L285.88,236.49 L286.81,236.58 L287.78,236.64 L288.78,236.66 L289.81,236.66 L290.86,236.64 L291.91,236.6 L292.95,236.55 L293.99,236.5 L295,236.45 L296,236.38 L297,236.27 L298,236.13 L299,235.98 L300,235.82 L301,235.58 L302,235.35 L303,235.16 L304,234.99 L305,234.88 L306.01,234.82 L307.05,234.8 L308.09,234.81 L309.14,234.84 L310.19,234.89 L311.22,234.96 L312.22,235.04 L313.19,235.12 L314.12,235.19 L315,235.25 L316.15,235.37 L317.19,235.54 L318.16,235.74 L319.09,235.91 L320.01,236.03 L320.97,236.07 L322,235.97 L322.94,235.76 L323.88,235.45 L324.84,235.07 L325.81,234.63 L326.81,234.16 L327.84,233.69 L328.9,233.23 L330,232.8 L330.92,232.46 L331.87,232.12 L332.85,231.77 L333.86,231.42 L334.88,231.07 L335.9,230.72 L336.94,230.38 L337.97,230.04 L338.99,229.72 L340,229.4 L341.02,229.11 L342.08,228.81 L343.16,228.52 L344.24,228.23 L345.31,227.95 L346.36,227.68 L347.37,227.43 L348.32,227.19 L349.2,226.97 L350,226.77 L351.32,226.38 L352.36,226.07 L353.24,225.97 L354.08,226 L355,226.28 L356,226.82 L357,227.57 L358,228.48 L359,229.5 L360,230.6 L361,232.09 L362,233.81 L363,235.56 L364,237.17 L365,238.47 L365.92,239.39 L366.76,240 L367.64,240.43 L368.68,240.74 L370,241 L370.8,241.11 L371.68,241.17 L372.63,241.04 L373.64,240.78 L374.69,240.49 L375.76,240.18 L376.84,239.86 L377.92,239.54 L378.98,239.24 L380,238.96 L381,238.65 L382,238.29 L383,237.9 L384,237.5 L385,237.11 L386,236.75 L387,236.46 L388,236.25 L389,236.15 L390,236.18 L391,236.37 L392,236.72 L393,237.18 L394,237.74 L395,238.35 L396,238.97 L397,239.59 L398,240.15 L399,240.63 L400,241 L401,241.32 L402,241.59 L403,241.82 L404,242.01 L405,242.17 L406,242.29 L407,242.39 L408,242.47 L409,242.52 L410,242.55 L411,242.56 L412,242.53 L413,242.46 L414,242.37 L415,242.26 L416,242.13 L417,241.99 L418,241.83 L419,241.67 L420,241.5 L421,241.31 L422,241.09 L423,240.85 L424,240.59 L425,240.32 L426,240.06 L427,239.82 L428,239.59 L429,239.4 L430,239.25 L430.77,239.14 L431.2,239.04 L431.43,238.97 L431.6,238.92 L431.88,238.89 L432.4,238.88 L433.32,238.88 L434.8,238.91 L436.98,238.95 L440,239 L440.6,239 L441.22,238.99 L441.87,238.99 L442.55,238.99 L443.25,238.98 L443.98,238.98 L444.72,238.98 L445.5,238.98 L446.29,238.98 L447.11,238.98 L447.94,238.98 L448.8,238.98 L449.68,238.98 L450.57,238.98 L451.48,238.98 L452.41,238.98 L453.36,238.98 L454.32,238.98 L455.3,238.98 L456.3,238.98 L457.3,238.98 L458.32,238.98 L459.36,238.99 L460.4,238.99 L461.46,238.99 L462.52,238.99 L463.6,238.99 L464.68,239 L465.77,239 L466.88,239 L467.98,239 L469.1,239 L470.22,239.01 L471.34,239.01 L472.47,239.01 L473.6,239.01 L474.73,239.01 L475.87,239.02 L477.01,239.02 L478.15,239.02 L479.29,239.02 L480.43,239.02 L481.56,239.02 L482.7,239.02 L483.83,239.02 L484.96,239.02 L486.08,239.02 L487.2,239.02 L488.31,239.02 L489.42,239.02 L490.52,239.02 L491.61,239.02 L492.7,239.02 L493.77,239.02 L494.84,239.02 L495.9,239.01 L496.94,239.01 L497.97,239.01 L498.99,239 L500,239 L501,239 L502.01,238.99 L503.03,238.99 L504.05,238.98 L505.08,238.98 L506.11,238.97 L507.15,238.96 L508.19,238.96 L509.24,238.95 L510.29,238.94 L511.34,238.94 L512.4,238.93 L513.46,238.92 L514.52,238.92 L515.59,238.91 L516.65,238.9 L517.72,238.89 L518.79,238.88 L519.86,238.88 L520.93,238.87 L522,238.86 L523.06,238.85 L524.13,238.84 L525.2,238.83 L526.27,238.82 L527.33,238.81 L528.39,238.8 L529.45,238.79 L530.51,238.78 L531.56,238.78 L532.61,238.77 L533.66,238.76 L534.7,238.75 L535.74,238.74 L536.77,238.73 L537.8,238.72 L538.82,238.71 L539.84,238.7 L540.85,238.69 L541.85,238.68 L542.85,238.67 L543.84,238.66 L544.82,238.65 L545.79,238.64 L546.76,238.63 L547.71,238.62 L548.66,238.61 L549.6,238.6 L550.53,238.59 L551.45,238.58 L552.35,238.57 L553.25,238.57 L554.14,238.56 L555.01,238.55 L555.88,238.54 L556.73,238.53 L557.56,238.52 L558.39,238.52 L559.2,238.51 L560,238.5 L561.35,238.49 L562.69,238.47 L564.01,238.46 L565.32,238.45 L566.62,238.43 L567.9,238.42 L569.16,238.41 L570.41,238.39 L571.63,238.38 L572.84,238.37 L574.03,238.35 L575.2,238.34 L576.35,238.33 L577.48,238.31 L578.59,238.3 L579.67,238.29 L580.73,238.28 L581.76,238.26 L582.78,238.25 L583.76,238.24 L584.72,238.23 L585.65,238.21 L586.56,238.2 L587.43,238.19 L588.28,238.18 L589.1,238.17 L589.88,238.16 L590.64,238.15 L591.36,238.14 L592.06,238.14 L592.71,238.13 L593.34,238.12 L593.93,238.11 L594.48,238.11 L595,238.1 L595,240.1 L594.48,240.11 L593.93,240.11 L593.34,240.12 L592.71,240.13 L592.06,240.14 L591.36,240.14 L590.64,240.15 L589.88,240.16 L589.1,240.17 L588.28,240.18 L587.43,240.19 L586.56,240.2 L585.65,240.21 L584.72,240.23 L583.76,240.24 L582.78,240.25 L581.76,240.26 L580.73,240.28 L579.67,240.29 L578.59,240.3 L577.48,240.31 L576.35,240.33 L575.2,240.34 L574.03,240.35 L572.84,240.37 L571.63,240.38 L570.41,240.39 L569.16,240.41 L567.9,240.42 L566.62,240.43 L565.32,240.45 L564.01,240.46 L562.69,240.47 L561.35,240.49 L560,240.5 L559.2,240.51 L558.39,240.52 L557.56,240.52 L556.73,240.53 L555.88,240.54 L555.01,240.55 L554.14,240.56 L553.25,240.57 L552.35,240.57 L551.45,240.58 L550.53,240.59 L549.6,240.6 L548.66,240.61 L547.71,240.62 L546.76,240.63 L545.79,240.64 L544.82,240.65 L543.84,240.66 L542.85,240.67 L541.85,240.68 L540.85,240.69 L539.84,240.7 L538.82,240.71 L537.8,240.72 L536.77,240.73 L535.74,240.74 L534.7,240.75 L533.66,240.76 L532.61,240.77 L531.56,240.78 L530.51,240.78 L529.45,240.79 L528.39,240.8 L527.33,240.81 L526.27,240.82 L525.2,240.83 L524.13,240.84 L523.06,240.85 L522,240.86 L520.93,240.87 L519.86,240.88 L518.79,240.88 L517.72,240.89 L516.65,240.9 L515.59,240.91 L514.52,240.92 L513.46,240.92 L512.4,240.93 L511.34,240.94 L510.29,240.94 L509.24,240.95 L508.19,240.96 L507.15,240.96 L506.11,240.97 L505.08,240.98 L504.05,240.98 L503.03,240.99 L502.01,240.99 L501,241 L500,241 L498.99,241 L497.97,241.01 L496.94,241.01 L495.9,241.01 L494.84,241.02 L493.77,241.02 L492.7,241.02 L491.61,241.02 L490.52,241.02 L489.42,241.02 L488.31,241.02 L487.2,241.02 L486.08,241.02 L484.96,241.02 L483.83,241.02 L482.7,241.02 L481.56,241.02 L480.43,241.02 L479.29,241.02 L478.15,241.02 L477.01,241.02 L475.87,241.02 L474.73,241.01 L473.6,241.01 L472.47,241.01 L471.34,241.01 L470.22,241.01 L469.1,241 L467.98,241 L466.88,241 L465.77,241 L464.68,241 L463.6,240.99 L462.52,240.99 L461.46,240.99 L460.4,240.99 L459.36,240.99 L458.32,240.98 L457.3,240.98 L456.3,240.98 L455.3,240.98 L454.32,240.98 L453.36,240.98 L452.41,240.98 L451.48,240.98 L450.57,240.98 L449.68,240.98 L448.8,240.98 L447.94,240.98 L447.11,240.98 L446.29,240.98 L445.5,240.98 L444.72,240.98 L443.98,240.98 L443.25,240.98 L442.55,240.99 L441.87,240.99 L441.22,240.99 L440.6,241 L440,241 L436.98,241.1 L434.8,241.17 L433.32,241.22 L432.4,241.26 L431.88,241.3 L431.6,241.34 L431.43,241.4 L431.2,241.48 L430.77,241.6 L430,241.75 L429,241.95 L428,242.19 L427,242.47 L426,242.76 L425,243.07 L424,243.39 L423,243.7 L422,243.99 L421,244.26 L420,244.5 L419,244.72 L418,244.93 L417,245.14 L416,245.33 L415,245.51 L414,245.67 L413,245.81 L412,245.93 L411,246.01 L410,246.05 L409,246.07 L408,246.07 L407,246.04 L406,245.99 L405,245.92 L404,245.81 L403,245.67 L402,245.49 L401,245.27 L400,245 L399,244.6 L398,244.08 L397,243.48 L396,242.83 L395,242.17 L394,241.52 L393,240.93 L392,240.43 L391,240.05 L390,239.82 L389,239.76 L388,239.82 L387,240 L386,240.25 L385,240.57 L384,240.92 L383,241.29 L382,241.65 L381,241.97 L380,242.24 L378.98,242.49 L377.92,242.76 L376.84,243.03 L375.76,243.31 L374.69,243.59 L373.64,243.84 L372.63,244.06 L371.68,244.33 L370.8,244.71 L370,245 L368.68,245.4 L367.64,245.61 L366.76,245.62 L365.92,245.44 L365,245.13 L364,244.51 L363,243.56 L362,242.47 L361,241.43 L360,240.6 L359,239.75 L358,238.98 L357,238.32 L356,237.82 L355,237.53 L354.08,237.48 L353.24,237.66 L352.36,237.98 L351.32,238.26 L350,238.43 L349.2,238.5 L348.32,238.57 L347.37,238.65 L346.36,238.74 L345.31,238.84 L344.24,238.94 L343.16,239.04 L342.08,239.16 L341.02,239.28 L340,239.4 L338.99,239.51 L337.97,239.64 L336.94,239.77 L335.9,239.9 L334.88,240.04 L333.86,240.19 L332.85,240.34 L331.87,240.49 L330.92,240.65 L330,240.8 L328.9,241.04 L327.84,241.33 L326.81,241.63 L325.81,241.93 L324.84,242.21 L323.88,242.43 L322.94,242.58 L322,242.63 L320.97,242.56 L320.01,242.37 L319.09,242.09 L318.16,241.76 L317.19,241.41 L316.15,241.06 L315,240.75 L314.12,240.54 L313.19,240.31 L312.22,240.08 L311.22,239.83 L310.19,239.59 L309.14,239.36 L308.09,239.15 L307.05,238.97 L306.01,238.82 L305,238.72 L304,238.66 L303,238.66 L302,238.69 L301,238.75 L300,238.82 L299,239 L298,239.17 L297,239.33 L296,239.46 L295,239.55 L293.99,239.62 L292.95,239.7 L291.91,239.76 L290.86,239.82 L289.81,239.86 L288.78,239.89 L287.78,239.88 L286.81,239.84 L285.88,239.77 L285,239.65 L283.85,239.35 L282.81,238.89 L281.84,238.35 L280.91,237.8 L279.99,237.29 L279.03,236.91 L278,236.72 L277.05,236.73 L276.07,236.88 L275.07,237.12 L274.06,237.43 L273.04,237.76 L272.02,238.09 L271.01,238.38 L270,238.6 L268.99,238.76 L267.98,238.91 L266.96,239.04 L265.94,239.15 L264.93,239.24 L263.93,239.31 L262.95,239.36 L262,239.38 L260.97,239.36 L260.01,239.3 L259.09,239.21 L258.16,239.1 L257.19,238.98 L256.15,238.86 L255,238.75 L254.14,238.67 L253.27,238.57 L252.38,238.46 L251.46,238.34 L250.5,238.23 L249.5,238.07 L248.46,237.88 L247.37,237.72 L246.22,237.59 L245,237.5 L244.18,237.47 L243.37,237.47 L242.56,237.48 L241.75,237.52 L240.93,237.57 L240.08,237.63 L239.2,237.78 L238.29,237.93 L237.32,238.1 L236.3,238.26 L235.21,238.42 L234.04,238.58 L232.79,238.73 L231.45,238.86 L230,238.99 L229.24,239.04 L228.48,239.1 L227.7,239.16 L226.91,239.22 L226.1,239.27 L225.28,239.33 L224.45,239.38 L223.6,239.44 L222.73,239.49 L221.85,239.55 L220.95,239.6 L220.04,239.66 L219.11,239.71 L218.16,239.76 L217.19,239.81 L216.2,239.86 L215.19,239.91 L214.16,239.96 L213.11,240.01 L212.04,240.05 L210.94,240.1 L209.83,240.14 L208.68,240.19 L207.52,240.23 L206.33,240.27 L205.12,240.31 L203.88,240.34 L202.61,240.38 L201.32,240.41 L200,240.45 L199.19,240.46 L198.37,240.48 L197.54,240.5 L196.7,240.52 L195.84,240.53 L194.98,240.55 L194.1,240.56 L193.21,240.58 L192.31,240.59 L191.4,240.61 L190.48,240.62 L189.55,240.63 L188.61,240.64 L187.66,240.66 L186.71,240.67 L185.74,240.68 L184.77,240.69 L183.79,240.7 L182.8,240.71 L181.8,240.72 L180.8,240.73 L179.79,240.73 L178.77,240.74 L177.75,240.75 L176.72,240.76 L175.68,240.77 L174.65,240.77 L173.6,240.78 L172.55,240.79 L171.5,240.79 L170.44,240.8 L169.38,240.8 L168.32,240.81 L167.25,240.81 L166.18,240.82 L165.11,240.82 L164.03,240.83 L162.96,240.83 L161.88,240.84 L160.8,240.84 L159.72,240.85 L158.64,240.85 L157.56,240.85 L156.48,240.86 L155.39,240.86 L154.31,240.86 L153.23,240.87 L152.15,240.87 L151.08,240.87 L150,240.88 L149.05,240.88 L148.07,240.88 L147.08,240.89 L146.06,240.89 L145.03,240.89 L143.98,240.89 L142.91,240.89 L141.83,240.89 L140.74,240.89 L139.63,240.89 L138.51,240.89 L137.38,240.89 L136.24,240.89 L135.09,240.89 L133.94,240.89 L132.77,240.89 L131.61,240.89 L130.43,240.89 L129.26,240.89 L128.08,240.89 L126.9,240.88 L125.72,240.88 L124.54,240.88 L123.37,240.88 L122.19,240.88 L121.02,240.87 L119.86,240.87 L118.7,240.87 L117.55,240.87 L116.41,240.86 L115.27,240.86 L114.15,240.86 L113.04,240.85 L111.94,240.85 L110.85,240.85 L109.78,240.85 L108.72,240.84 L107.69,240.84 L106.66,240.84 L105.66,240.83 L104.68,240.83 L103.72,240.83 L102.77,240.83 L101.86,240.82 L100.96,240.82 L100.1,240.82 L99.25,240.82 L98.44,240.81 L97.65,240.81 L96.89,240.81 L96.17,240.81 L95.47,240.81 L94.81,240.8 L94.18,240.8 L93.58,240.8 L93.02,240.8 L92.5,240.8 Z" fill="#0000ff" fill-opacity="0.35" stroke="none"/>
<path d="M92.5,240 C102.08,240 132.08,240.08 150,240 C167.92,239.92 186.67,239.83 200,239.5 C213.33,239.17 222.5,238.58 230,238 C237.5,237.42 240.83,236.2 245,236 C249.17,235.8 252.17,236.55 255,236.8 C257.83,237.05 259.5,237.5 262,237.5 C264.5,237.5 267.33,237.22 270,236.8 C272.67,236.38 275.5,234.8 278,235 C280.5,235.2 282.17,237.5 285,238 C287.83,238.5 291.67,238.2 295,238 C298.33,237.8 301.67,236.8 305,236.8 C308.33,236.8 312.17,237.58 315,238 C317.83,238.42 319.5,239.5 322,239.3 C324.5,239.1 327,237.62 330,236.8 C333,235.98 336.67,235.1 340,234.4 C343.33,233.7 347.5,233.02 350,232.6 C352.5,232.18 353.33,231.4 355,231.9 C356.67,232.4 358.33,233.95 360,235.6 C361.67,237.25 363.33,240.57 365,241.8 C366.67,243.03 367.5,243.2 370,243 C372.5,242.8 376.67,241.43 380,240.6 C383.33,239.77 386.67,237.6 390,238 C393.33,238.4 396.67,241.95 400,243 C403.33,244.05 406.67,244.3 410,244.3 C413.33,244.3 416.67,243.63 420,243 C423.33,242.37 426.67,241 430,240.5 C433.33,240 428.33,240.08 440,240 C451.67,239.92 480,240.08 500,240 C520,239.92 544.17,239.65 560,239.5 C575.83,239.35 589.17,239.17 595,239.1" fill="none" stroke="#0000ff" stroke-width="1.5" stroke-linejoin="round" stroke-linecap="round" />
<path d="M92.5,240 C93.75,239.43 97.08,237.1 100,236.6 C102.92,236.1 106.67,236.6 110,237 C113.33,237.4 117.33,238 120,239 C122.67,240 124.67,242 126,243 C127.33,244 126.5,246.17 128,245 C129.5,243.83 133,238.5 135,236 C137,233.5 138.33,230.5 140,230 C141.67,229.5 143.33,231.67 145,233 C146.67,234.33 148.33,236.83 150,238 C151.67,239.17 153.33,239.83 155,240 C156.67,240.17 158.33,239 160,239 C161.67,239 163.33,240.5 165,240 C166.67,239.5 168.17,237.73 170,236 C171.83,234.27 174.33,230.93 176,229.6 C177.67,228.27 178.5,227.6 180,228 C181.5,228.4 183.33,230.33 185,232 C186.67,233.67 188.33,235.33 190,238 C191.67,240.67 193.83,245.75 195,248 C196.17,250.25 196.17,252 197,251.5 C197.83,251 198.67,247.25 200,245 C201.33,242.75 203.33,239.83 205,238 C206.67,236.17 208.33,235.33 210,234 C211.67,232.67 213.33,231 215,230 C216.67,229 218.33,228.67 220,228 C221.67,227.33 223.67,226.17 225,226 C226.33,225.83 226.83,227.22 228,227 C229.17,226.78 230.33,224.03 232,224.7 C233.67,225.37 236.33,229.45 238,231 C239.67,232.55 240.83,233.17 242,234 C243.17,234.83 243.67,235.17 245,236 C246.33,236.83 248.33,238.17 250,239 C251.67,239.83 253.33,239.33 255,241 C256.67,242.67 258.67,246.58 260,249 C261.33,251.42 261.83,254.22 263,255.5 C264.17,256.78 265.5,259.45 267,256.7 C268.5,253.95 270.67,242.62 272,239 C273.33,235.38 274,234.83 275,235 C276,235.17 276.67,238.87 278,240 C279.33,241.13 281.33,241.5 283,241.8 C284.67,242.1 286.5,243.03 288,241.8 C289.5,240.57 290.67,236.87 292,234.4 C293.33,231.93 294.67,228.87 296,227 C297.33,225.13 298.67,222.6 300,223.2 C301.33,223.8 302.67,228.13 304,230.6 C305.33,233.07 306.67,236.33 308,238 C309.33,239.67 310.67,242.65 312,240.6 C313.33,238.55 314.67,231.7 316,225.7 C317.33,219.7 318.83,210.38 320,204.6 C321.17,198.82 321.67,193.68 323,191 C324.33,188.32 326.33,189.13 328,188.5 C329.67,187.87 331.33,186.58 333,187.2 C334.67,187.82 336.5,193.43 338,192.2 C339.5,190.97 340.67,183.33 342,179.8 C343.33,176.27 344.67,172.03 346,171 C347.33,169.97 348.67,174.2 350,173.6 C351.33,173 352.83,167.83 354,167.4 C355.17,166.97 355.67,168.12 357,171 C358.33,173.88 360.5,180.13 362,184.7 C363.5,189.27 364.83,196.12 366,198.4 C367.17,200.68 368,196.97 369,198.4 C370,199.83 370.83,201.42 372,207 C373.17,212.58 374.67,226.1 376,231.9 C377.33,237.7 378.67,240.57 380,241.8 C381.33,243.03 382.67,241.37 384,239.3 C385.33,237.23 386.83,230.63 388,229.4 C389.17,228.17 390,229.42 391,231.9 C392,234.38 392.83,240.58 394,244.3 C395.17,248.02 396.33,251.72 398,254.2 C399.67,256.68 402,258.57 404,259.2 C406,259.83 408.17,259.03 410,258 C411.83,256.97 413.33,254.67 415,253 C416.67,251.33 418.33,249.67 420,248 C421.67,246.33 423.33,242.5 425,243 C426.67,243.5 428.33,250.03 430,251 C431.67,251.97 433.33,249.9 435,248.8 C436.67,247.7 438.5,247.33 440,244.4 C441.5,241.47 442.67,232.77 444,231.2 C445.33,229.63 446.5,233.7 448,235 C449.5,236.3 451,238.1 453,239 C455,239.9 458,240.4 460,240.4 C462,240.4 463.33,237.9 465,239 C466.67,240.1 468.33,244.57 470,247 C471.67,249.43 473.33,252.72 475,253.6 C476.67,254.48 478.33,253.4 480,252.3 C481.67,251.2 483.33,248.32 485,247 C486.67,245.68 488.5,246.58 490,244.4 C491.5,242.22 492.83,234.13 494,233.9 C495.17,233.67 496,239.07 497,243 C498,246.93 498.83,253.9 500,257.5 C501.17,261.1 502.67,263.93 504,264.6 C505.33,265.27 506.67,263.33 508,261.5 C509.33,259.67 510.67,254.48 512,253.6 C513.33,252.72 514.67,254.47 516,256.2 C517.33,257.93 518.83,262.25 520,264 C521.17,265.75 521.83,268.22 523,266.7 C524.17,265.18 525.5,257.75 527,254.9 C528.5,252.05 530.33,251.35 532,249.6 C533.67,247.85 534.83,245.72 537,244.4 C539.17,243.08 542.83,243.02 545,241.7 C547.17,240.38 548.33,238.68 550,236.5 C551.67,234.32 553.67,230.13 555,228.6 C556.33,227.07 556.83,226.2 558,227.3 C559.17,228.4 560.5,234.1 562,235.2 C563.5,236.3 565.33,234.43 567,233.9 C568.67,233.37 570.33,231.57 572,232 C573.67,232.43 575.67,236.18 577,236.5 C578.33,236.82 578.67,235.65 580,233.9 C581.33,232.15 583.5,227.32 585,226 C586.5,224.68 587.83,224.68 589,226 C590.17,227.32 591,231.5 592,233.9 C593,236.3 594.5,239.32 595,240.4" fill="none" stroke="#000" stroke-width="1.5" stroke-linejoin="round" stroke-linecap="round" />
<path d="M92.5,240 C93.75,239.5 95.42,237.17 100,237 C104.58,236.83 115.67,237.67 120,239 C124.33,240.33 124.67,243.83 126,245 C127.33,246.17 126.5,247.33 128,246 C129.5,244.67 133,239.5 135,237 C137,234.5 138.33,231.67 140,231 C141.67,230.33 143.33,231.83 145,233 C146.67,234.17 148.33,236.83 150,238 C151.67,239.17 153.67,241 155,240 C156.33,239 157.17,232.67 158,232 C158.83,231.33 159.17,234.33 160,236 C160.83,237.67 161.83,241.33 163,242 C164.17,242.67 165.83,241.5 167,240 C168.17,238.5 168.67,234.83 170,233 C171.33,231.17 173.5,230 175,229 C176.5,228 177.67,226.5 179,227 C180.33,227.5 181.67,231.17 183,232 C184.33,232.83 185.5,231 187,232 C188.5,233 190.5,235.83 192,238 C193.5,240.17 195,243.67 196,245 C197,246.33 196.5,247.33 198,246 C199.5,244.67 203,239 205,237 C207,235 208.33,234.67 210,234 C211.67,233.33 213,233.33 215,233 C217,232.67 220.17,231.5 222,232 C223.83,232.5 225,233.83 226,236 C227,238.17 226.5,243.17 228,245 C229.5,246.83 233,246.17 235,247 C237,247.83 238.33,249 240,250 C241.67,251 243.67,253 245,253 C246.33,253 246.83,250 248,250 C249.17,250 250.67,253 252,253 C253.33,253 254.33,251.03 256,250 C257.67,248.97 260,247.13 262,246.8 C264,246.47 265.83,248.63 268,248 C270.17,247.37 273,244.03 275,243 C277,241.97 278.33,241.38 280,241.8 C281.67,242.22 283.33,245.7 285,245.5 C286.67,245.3 288.33,242.45 290,240.6 C291.67,238.75 293,236.07 295,234.4 C297,232.73 300.17,231.23 302,230.6 C303.83,229.97 304.33,229.77 306,230.6 C307.67,231.43 310,234.37 312,235.6 C314,236.83 315,237.38 318,238 C321,238.62 326.83,238.47 330,239.3 C333.17,240.13 334.83,241.33 337,243 C339.17,244.67 341.17,247.22 343,249.3 C344.83,251.38 346.67,254.05 348,255.5 C349.33,256.95 349.83,258.25 351,258 C352.17,257.75 353.67,255.67 355,254 C356.33,252.33 357.67,250.67 359,248 C360.33,245.33 361.67,241.5 363,238 C364.33,234.5 365.83,229.27 367,227 C368.17,224.73 368.83,223.57 370,224.4 C371.17,225.23 372.67,229.52 374,232 C375.33,234.48 376.67,237.67 378,239.3 C379.33,240.93 380.33,242.02 382,241.8 C383.67,241.58 386,238.83 388,238 C390,237.17 392,236.37 394,236.8 C396,237.23 398,238.93 400,240.6 C402,242.27 404.33,245.35 406,246.8 C407.67,248.25 408.5,249.52 410,249.3 C411.5,249.08 413.33,246.88 415,245.5 C416.67,244.12 418.33,241.08 420,241 C421.67,240.92 423.33,243.33 425,245 C426.67,246.67 428.33,251 430,251 C431.67,251 433.33,247.5 435,245 C436.67,242.5 438.5,238.3 440,236 C441.5,233.7 442.67,231.37 444,231.2 C445.33,231.03 446.17,233.7 448,235 C449.83,236.3 452.67,238.33 455,239 C457.33,239.67 460,238.77 462,239 C464,239.23 465.33,239.5 467,240.4 C468.67,241.3 470.17,243 472,244.4 C473.83,245.8 476,248.8 478,248.8 C480,248.8 482.17,244.7 484,244.4 C485.83,244.1 487.33,249.4 489,247 C490.67,244.6 492.67,231.75 494,230 C495.33,228.25 496,233.67 497,236.5 C498,239.33 499,244.37 500,247 C501,249.63 501.83,252.08 503,252.3 C504.17,252.52 505.5,247.65 507,248.3 C508.5,248.95 510.5,254 512,256.2 C513.5,258.4 514.67,259.97 516,261.5 C517.33,263.03 518.83,264.53 520,265.4 C521.17,266.27 521.83,268.88 523,266.7 C524.17,264.52 525.5,256.02 527,252.3 C528.5,248.58 529.83,246.17 532,244.4 C534.17,242.63 537.83,242.37 540,241.7 C542.17,241.03 543.33,241.48 545,240.4 C546.67,239.32 548.33,236.93 550,235.2 C551.67,233.47 553.33,230.22 555,230 C556.67,229.78 558.17,232.82 560,233.9 C561.83,234.98 564.33,235.85 566,236.5 C567.67,237.15 568.5,237.37 570,237.8 C571.5,238.23 573.5,238.23 575,239.1 C576.5,239.97 577.33,243.43 579,243 C580.67,242.57 583.17,238.02 585,236.5 C586.83,234.98 588.33,233.25 590,233.9 C591.67,234.55 594.17,239.32 595,240.4" fill="none" stroke="#ff0000" stroke-width="1.5" stroke-linejoin="round" stroke-linecap="round" />
<path d="M92.5,240 C97.08,240 112.08,240.17 120,240 C127.92,239.83 133.33,238.83 140,239 C146.67,239.17 153.33,240.83 160,241 C166.67,241.17 175,240 180,240 C185,240 187.5,240.17 190,241 C192.5,241.83 193.83,243.92 195,245 C196.17,246.08 195.33,247.67 197,247.5 C198.67,247.33 202,245.58 205,244 C208,242.42 211.67,240.33 215,238 C218.33,235.67 222.17,232.67 225,230 C227.83,227.33 230,223.63 232,222 C234,220.37 235.17,219.7 237,220.2 C238.83,220.7 241.33,223.7 243,225 C244.67,226.3 245.5,227.73 247,228 C248.5,228.27 250.33,225.93 252,226.6 C253.67,227.27 255.67,229.93 257,232 C258.33,234.07 259,236.53 260,239 C261,241.47 261.83,245.13 263,246.8 C264.17,248.47 265.5,251.47 267,249 C268.5,246.53 270.67,238.17 272,232 C273.33,225.83 274,217.83 275,212 C276,206.17 277,196.17 278,197 C279,197.83 279.83,210.17 281,217 C282.17,223.83 283.5,233.87 285,238 C286.5,242.13 288.33,242.47 290,241.8 C291.67,241.13 293.33,235.87 295,234 C296.67,232.13 298.67,229.93 300,230.6 C301.33,231.27 301.67,235.1 303,238 C304.33,240.9 306.5,247.37 308,248 C309.5,248.63 310.83,245.3 312,241.8 C313.17,238.3 314,232.8 315,227 C316,221.2 316.83,212.83 318,207 C319.17,201.17 320.83,195.08 322,192 C323.17,188.92 323.67,189 325,188.5 C326.33,188 328.33,188.8 330,189 C331.67,189.2 333.67,189.2 335,189.7 C336.33,190.2 336.67,194.07 338,192 C339.33,189.93 341.5,181.2 343,177.3 C344.5,173.4 345.67,170.67 347,168.6 C348.33,166.53 349.83,166.13 351,164.9 C352.17,163.67 352.83,160.78 354,161.2 C355.17,161.62 356.67,163.88 358,167.4 C359.33,170.92 360.67,177.13 362,182.3 C363.33,187.47 364.67,193.85 366,198.4 C367.33,202.95 368.67,204.83 370,209.6 C371.33,214.37 372.67,222.05 374,227 C375.33,231.95 376.67,237.03 378,239.3 C379.33,241.57 380.67,241.22 382,240.6 C383.33,239.98 384.83,237.47 386,235.6 C387.17,233.73 388,229.2 389,229.4 C390,229.6 390.83,233.48 392,236.8 C393.17,240.12 394.67,246.82 396,249.3 C397.33,251.78 398.5,251.7 400,251.7 C401.5,251.7 403.33,250.12 405,249.3 C406.67,248.48 408.33,247.43 410,246.8 C411.67,246.17 413.33,246.33 415,245.5 C416.67,244.67 417.5,242.43 420,241.8 C422.5,241.17 426.67,242.37 430,241.7 C433.33,241.03 436.67,238.23 440,237.8 C443.33,237.37 446.67,238.73 450,239.1 C453.33,239.47 457,239.57 460,240 C463,240.43 465.67,240.53 468,241.7 C470.33,242.87 472,247.43 474,247 C476,246.57 478.17,240.93 480,239.1 C481.83,237.27 483.33,236 485,236 C486.67,236 488.33,237.93 490,239.1 C491.67,240.27 493.5,240.37 495,243 C496.5,245.63 497.83,252.48 499,254.9 C500.17,257.32 500.83,258.15 502,257.5 C503.17,256.85 504.67,253.42 506,251 C507.33,248.58 508,244.55 510,243 C512,241.45 515.5,241.47 518,241.7 C520.5,241.93 523,243.52 525,244.4 C527,245.28 528,247 530,247 C532,247 534.5,245.07 537,244.4 C539.5,243.73 542,243.57 545,243 C548,242.43 551.67,241.87 555,241 C558.33,240.13 561.67,238.55 565,237.8 C568.33,237.05 571.67,237.15 575,236.5 C578.33,235.85 581.67,233.9 585,233.9 C588.33,233.9 593.33,236.07 595,236.5" fill="none" stroke="#0a9a0a" stroke-width="1.5" stroke-linejoin="round" stroke-linecap="round" />
</g>
<g clip-path="url(#clip0)"><g filter="url(#cmap)">
<rect x="72.6" y="261.9" width="542.4" height="147.7" fill="rgb(128,128,128)"/>
<ellipse cx="200" cy="347" rx="110" ry="3" fill="rgb(144,144,144)" filter="url(#b6_2)"/><ellipse cx="285" cy="313" rx="10" ry="4" fill="rgb(157,157,157)" filter="url(#b4_2)"/><ellipse cx="302" cy="287" rx="4" ry="8" fill="rgb(160,160,160)" filter="url(#b2_3)"/><ellipse cx="316" cy="292" rx="3" ry="7" fill="rgb(157,157,157)" filter="url(#b2_3)"/><ellipse cx="268" cy="300" rx="4" ry="6" fill="rgb(147,147,147)" filter="url(#b2_2)"/><ellipse cx="340" cy="334" rx="13" ry="8" fill="rgb(185,185,185)" filter="url(#b4_3)"/><ellipse cx="352" cy="312" rx="5" ry="11" fill="rgb(173,173,173)" filter="url(#b2_4)"/><ellipse cx="348" cy="326" rx="6" ry="5" fill="rgb(166,166,166)" filter="url(#b2_2)"/><ellipse cx="372" cy="284" rx="4" ry="6" fill="rgb(99,99,99)" filter="url(#b2_2)"/><ellipse cx="330" cy="284" rx="3" ry="5" fill="rgb(106,106,106)" filter="url(#b2_2)"/><ellipse cx="356" cy="394" rx="40" ry="5" fill="rgb(93,93,93)" filter="url(#b6_2)"/><ellipse cx="350" cy="393" rx="25" ry="4" fill="rgb(77,77,77)" filter="url(#b5_2)"/><ellipse cx="300" cy="395" rx="20" ry="4" fill="rgb(106,106,106)" filter="url(#b5_2)"/><ellipse cx="395" cy="394" rx="15" ry="4" fill="rgb(109,109,109)" filter="url(#b5_2)"/><ellipse cx="430" cy="345" rx="30" ry="3" fill="rgb(141,141,141)" filter="url(#b6_2)"/><ellipse cx="470" cy="325" rx="20" ry="3" fill="rgb(141,141,141)" filter="url(#b5_2)"/><ellipse cx="560" cy="360" rx="25" ry="3" fill="rgb(138,138,138)" filter="url(#b5_2)"/><ellipse cx="410" cy="300" rx="6" ry="5" fill="rgb(112,112,112)" filter="url(#b2_2)"/><ellipse cx="445" cy="310" rx="6" ry="4" fill="rgb(115,115,115)" filter="url(#b2_2)"/>
</g></g>
<g clip-path="url(#clip1)"><g filter="url(#cmap)">
<rect x="72.6" y="389.5" width="542.4" height="147.7" fill="rgb(128,128,128)"/>
<ellipse cx="210" cy="488" rx="120" ry="6" fill="rgb(106,106,106)" filter="url(#b8_2)"/><ellipse cx="380" cy="485" rx="45" ry="4" fill="rgb(90,90,90)" filter="url(#b6_2)"/><ellipse cx="520" cy="470" rx="80" ry="12" fill="rgb(106,106,106)" filter="url(#b8_4)"/><ellipse cx="215" cy="455" rx="30" ry="10" fill="rgb(109,109,109)" filter="url(#b5_4)"/><ellipse cx="300" cy="487" rx="18" ry="5" fill="rgb(154,154,154)" filter="url(#b4_2)"/><ellipse cx="560" cy="440" rx="35" ry="8" fill="rgb(150,150,150)" filter="url(#b5_3)"/><ellipse cx="200" cy="504" rx="100" ry="4" fill="rgb(138,138,138)" filter="url(#b8_2)"/><ellipse cx="125" cy="437" rx="10" ry="5" fill="rgb(154,154,154)" filter="url(#b3_2)"/><ellipse cx="97" cy="415" rx="6" ry="9" fill="rgb(71,71,71)" filter="url(#b2_3)"/><ellipse cx="113" cy="418" rx="3" ry="6" fill="rgb(154,154,154)" filter="url(#b2_2)"/><ellipse cx="158" cy="414" rx="3.5" ry="8" fill="rgb(243,243,243)" filter="url(#b1p5_3)" transform="rotate(-20 158 414)"/><ellipse cx="168" cy="412" rx="3" ry="6" fill="rgb(179,179,179)" filter="url(#b1p5_2)"/><ellipse cx="185" cy="414" rx="4" ry="8" fill="rgb(236,236,236)" filter="url(#b1p5_3)" transform="rotate(-15 185 414)"/><ellipse cx="194" cy="412" rx="3" ry="6" fill="rgb(185,185,185)" filter="url(#b1p5_2)"/><ellipse cx="200" cy="413" rx="2.5" ry="6" fill="rgb(64,64,64)" filter="url(#b1p5_2)"/><ellipse cx="215" cy="415" rx="6" ry="9" fill="rgb(255,255,255)" filter="url(#b2_3)" transform="rotate(-25 215 415)"/><ellipse cx="233" cy="412" rx="3.5" ry="6" fill="rgb(71,71,71)" filter="url(#b1p5_2)"/><ellipse cx="249" cy="413" rx="4" ry="7" fill="rgb(45,45,45)" filter="url(#b1p5_2)"/><ellipse cx="262" cy="411" rx="6" ry="4" fill="rgb(179,179,179)" filter="url(#b2_1p5)"/><ellipse cx="283" cy="411" rx="4" ry="4" fill="rgb(166,166,166)" filter="url(#b1p5_1p5)"/><ellipse cx="339" cy="412" rx="3" ry="6" fill="rgb(77,77,77)" filter="url(#b1p5_2)"/><ellipse cx="350" cy="413" rx="3" ry="6" fill="rgb(71,71,71)" filter="url(#b1p5_2)"/><ellipse cx="357" cy="412" rx="3" ry="5" fill="rgb(173,173,173)" filter="url(#b1p5_2)"/><ellipse cx="366" cy="414" rx="3" ry="7" fill="rgb(217,217,217)" filter="url(#b1p5_2)"/><ellipse cx="391" cy="412" rx="3" ry="6" fill="rgb(211,211,211)" filter="url(#b1p5_2)"/><ellipse cx="407" cy="413" rx="5" ry="6" fill="rgb(77,77,77)" filter="url(#b1p5_2)"/><ellipse cx="420" cy="412" rx="4" ry="5" fill="rgb(173,173,173)" filter="url(#b1p5_2)"/><ellipse cx="429" cy="411" rx="4" ry="5" fill="rgb(179,179,179)" filter="url(#b1p5_2)"/><ellipse cx="440" cy="412" rx="5" ry="6" fill="rgb(83,83,83)" filter="url(#b1p5_2)"/><ellipse cx="465" cy="411" rx="3" ry="5" fill="rgb(173,173,173)" filter="url(#b1p5_2)"/><ellipse cx="490" cy="412" rx="3" ry="6" fill="rgb(71,71,71)" filter="url(#b1p5_2)"/><ellipse cx="500" cy="412" rx="5" ry="7" fill="rgb(249,249,249)" filter="url(#b1p5_2)"/><ellipse cx="520" cy="412" rx="5" ry="7" fill="rgb(26,26,26)" filter="url(#b1p5_2)"/><ellipse cx="533" cy="411" rx="3" ry="5" fill="rgb(179,179,179)" filter="url(#b1p5_2)"/><ellipse cx="554" cy="412" rx="6" ry="6" fill="rgb(243,243,243)" filter="url(#b1p5_2)"/><ellipse cx="566" cy="413" rx="4" ry="6" fill="rgb(211,211,211)" filter="url(#b1p5_2)"/><ellipse cx="589" cy="413" rx="4" ry="6" fill="rgb(224,224,224)" filter="url(#b1p5_2)"/><ellipse cx="177.6" cy="438" rx="6" ry="8" fill="rgb(249,249,249)" filter="url(#b2_3)"/><ellipse cx="166" cy="430" rx="4" ry="6" fill="rgb(185,185,185)" filter="url(#b2_2)"/><ellipse cx="141.6" cy="457" rx="8" ry="5" fill="rgb(192,192,192)" filter="url(#b3_2)"/><ellipse cx="113" cy="472" rx="22" ry="4" fill="rgb(173,173,173)" filter="url(#b5_2)"/><ellipse cx="230" cy="428" rx="6" ry="6" fill="rgb(102,102,102)" filter="url(#b2_2)"/><ellipse cx="262" cy="472" rx="22" ry="6" fill="rgb(52,52,52)" filter="url(#b4_2)"/><ellipse cx="262" cy="472.5" rx="18" ry="4.5" fill="rgb(0,0,0)" filter="url(#b3_1p5)"/><ellipse cx="290.5" cy="436" rx="7" ry="7.5" fill="rgb(0,0,0)" filter="url(#b2_2)"/><ellipse cx="273.6" cy="431" rx="5" ry="5" fill="rgb(173,173,173)" filter="url(#b2_2)"/><ellipse cx="298.4" cy="462.6" rx="13" ry="6.5" fill="rgb(236,236,236)" filter="url(#b3_2)"/><ellipse cx="349" cy="458" rx="10" ry="5.5" fill="rgb(45,45,45)" filter="url(#b3_2)"/><ellipse cx="368.5" cy="431" rx="4.5" ry="9" fill="rgb(230,230,230)" filter="url(#b2_3)"/><ellipse cx="373" cy="451" rx="11" ry="5.5" fill="rgb(198,198,198)" filter="url(#b3_2)"/><ellipse cx="445" cy="432.6" rx="5" ry="7" fill="rgb(243,243,243)" filter="url(#b2_2)"/><ellipse cx="491" cy="436" rx="7" ry="5" fill="rgb(243,243,243)" filter="url(#b2_2)"/><ellipse cx="511" cy="435" rx="16" ry="5.5" fill="rgb(0,0,0)" filter="url(#b2_2)" transform="rotate(43 511 435)"/><ellipse cx="535.5" cy="445.2" rx="5" ry="5" fill="rgb(198,198,198)" filter="url(#b2_2)"/><ellipse cx="585.7" cy="424" rx="4" ry="7" fill="rgb(236,236,236)" filter="url(#b1p5_3)"/><ellipse cx="479" cy="457" rx="13" ry="5" fill="rgb(45,45,45)" filter="url(#b2p5_2)" transform="rotate(30 479 457)"/><ellipse cx="428" cy="452" rx="7" ry="4" fill="rgb(173,173,173)" filter="url(#b2_2)"/><ellipse cx="470" cy="446" rx="5" ry="4" fill="rgb(160,160,160)" filter="url(#b2_2)"/><ellipse cx="560" cy="430" rx="4" ry="5" fill="rgb(179,179,179)" filter="url(#b2_2)"/><ellipse cx="588" cy="483" rx="12" ry="4" fill="rgb(166,166,166)" filter="url(#b3_2)"/><ellipse cx="287" cy="525" rx="35" ry="4.5" fill="rgb(7,7,7)" filter="url(#b4_1p5)"/><ellipse cx="395" cy="521" rx="62" ry="9.5" fill="rgb(255,255,255)" filter="url(#b5_2p5)"/><ellipse cx="452" cy="523" rx="15" ry="7" fill="rgb(204,204,204)" filter="url(#b5_3)"/>
</g></g>
<g clip-path="url(#clip2)"><g filter="url(#cmap)">
<rect x="72.6" y="517.4" width="542.4" height="147.7" fill="rgb(128,128,128)"/>
<ellipse cx="490" cy="617" rx="110" ry="6" fill="rgb(106,106,106)" filter="url(#b8_2)"/><ellipse cx="410" cy="590" rx="15" ry="12" fill="rgb(154,154,154)" filter="url(#b4_4)"/><ellipse cx="560" cy="575" rx="20" ry="6" fill="rgb(147,147,147)" filter="url(#b4_2)"/><ellipse cx="150" cy="582" rx="40" ry="4" fill="rgb(150,150,150)" filter="url(#b6_2)"/><ellipse cx="214" cy="578" rx="8" ry="4" fill="rgb(160,160,160)" filter="url(#b3_2)"/><ellipse cx="213" cy="596" rx="14" ry="5" fill="rgb(96,96,96)" filter="url(#b3_2)"/><ellipse cx="150" cy="628" rx="60" ry="3" fill="rgb(109,109,109)" filter="url(#b6_1p5)"/><ellipse cx="150" cy="649" rx="60" ry="3" fill="rgb(141,141,141)" filter="url(#b6_1p5)"/><ellipse cx="150" cy="638" rx="82" ry="8" fill="rgb(52,52,52)" filter="url(#b8_2)"/><ellipse cx="150" cy="638" rx="60" ry="4.5" fill="rgb(0,0,0)" filter="url(#b8_1p5)"/><ellipse cx="215" cy="652" rx="30" ry="3" fill="rgb(71,71,71)" filter="url(#b5_1p2)"/><ellipse cx="120" cy="653" rx="30" ry="3" fill="rgb(90,90,90)" filter="url(#b5_1p2)"/><ellipse cx="325" cy="633.6" rx="55" ry="6" fill="rgb(58,58,58)" filter="url(#b6_1p5)"/><ellipse cx="324" cy="633.6" rx="45" ry="4.5" fill="rgb(0,0,0)" filter="url(#b5_1p5)"/><ellipse cx="395" cy="645.5" rx="22" ry="5" fill="rgb(198,198,198)" filter="url(#b5_1p5)"/><ellipse cx="320" cy="645.5" rx="70" ry="5.2" fill="rgb(255,255,255)" filter="url(#b5_1p5)"/><ellipse cx="245" cy="644.5" rx="12" ry="4" fill="rgb(230,230,230)" filter="url(#b4_1p5)"/><ellipse cx="320" cy="655.5" rx="135" ry="3" fill="rgb(32,32,32)" filter="url(#b5_0p8)"/><ellipse cx="265" cy="653" rx="15" ry="2.5" fill="rgb(71,71,71)" filter="url(#b4_1p2)"/><ellipse cx="437" cy="643" rx="10" ry="3" fill="rgb(173,173,173)" filter="url(#b4_1p5)"/><ellipse cx="448" cy="652" rx="25" ry="3.5" fill="rgb(83,83,83)" filter="url(#b5_1p2)"/><ellipse cx="545" cy="575" rx="8" ry="12" fill="rgb(150,150,150)" filter="url(#b3_3)"/><ellipse cx="335" cy="610" rx="62" ry="6" fill="rgb(211,211,211)" filter="url(#b6_2)"/><ellipse cx="330" cy="611" rx="48" ry="5.5" fill="rgb(255,255,255)" filter="url(#b4_1p5)"/><ellipse cx="368" cy="609" rx="20" ry="4" fill="rgb(243,243,243)" filter="url(#b4_1p5)"/><ellipse cx="290" cy="612" rx="12" ry="6" fill="rgb(255,255,255)" filter="url(#b3_2)"/><ellipse cx="250" cy="611" rx="28" ry="9" fill="rgb(255,255,255)" filter="url(#b2p5_2p5)"/><ellipse cx="272" cy="614" rx="18" ry="6" fill="rgb(255,255,255)" filter="url(#b3_2)"/><ellipse cx="229" cy="588.5" rx="12" ry="3" fill="rgb(211,211,211)" filter="url(#b2_1p5)"/><ellipse cx="292" cy="592" rx="8" ry="3" fill="rgb(192,192,192)" filter="url(#b2_1p5)"/><ellipse cx="270" cy="596.5" rx="17" ry="8" fill="rgb(0,0,0)" filter="url(#b2p5_2)"/><ellipse cx="288" cy="601" rx="7" ry="3.5" fill="rgb(26,26,26)" filter="url(#b2_1p5)"/><ellipse cx="268.5" cy="581" rx="5" ry="3" fill="rgb(77,77,77)" filter="url(#b1p5_1p5)"/><ellipse cx="242.4" cy="565" rx="5.5" ry="8" fill="rgb(77,77,77)" filter="url(#b2_2)"/><ellipse cx="348" cy="546" rx="48" ry="10" fill="rgb(163,163,163)" filter="url(#b4_3)"/><ellipse cx="300" cy="585" rx="12" ry="20" fill="rgb(204,204,204)" filter="url(#b4_4)"/><ellipse cx="343" cy="585" rx="40" ry="22" fill="rgb(192,192,192)" filter="url(#b5_5)"/><ellipse cx="386" cy="568" rx="8" ry="9" fill="rgb(173,173,173)" filter="url(#b3_3)"/><path d="M306,567 L313,566 L325,565 L336,564 L345,565 L352,563.5 L364,558.5 L372.6,555 L376,557.5 L378,563 L371,571 L364,579 L362,582 L367,587.6 L372.6,592.8 L376,600 L366,605 L346,607 L329,607 L314,606 L306,600 L308,587.6 L306,580.5 L305,573.5 Z" fill="rgb(255,255,255)" filter="url(#b1p5_1p5)"/><ellipse cx="330.5" cy="569.5" rx="3.5" ry="3" fill="rgb(141,141,141)" filter="url(#b1p2_1p2)"/><ellipse cx="336" cy="586.3" rx="5" ry="1.8" fill="rgb(90,90,90)" filter="url(#b1p2_1)"/><ellipse cx="372" cy="579" rx="7" ry="4" fill="rgb(147,147,147)" filter="url(#b2_2)"/><ellipse cx="278" cy="568" rx="12" ry="9" fill="rgb(192,192,192)" filter="url(#b3_3)"/><path d="M278,536 L280,545 L281.5,556 L285,563 L287,570 L284,575.5 L276,577 L266,575 L264,569 L270,562 L275,555 L276,545 Z" fill="rgb(255,255,255)" filter="url(#b1p5_1p5)"/><ellipse cx="299.5" cy="541" rx="3" ry="7" fill="rgb(192,192,192)" filter="url(#b1p5_2)"/><ellipse cx="313.5" cy="542" rx="3" ry="8" fill="rgb(198,198,198)" filter="url(#b1p5_2)"/><ellipse cx="324" cy="547" rx="4" ry="12" fill="rgb(217,217,217)" filter="url(#b1p5_2p5)"/><ellipse cx="337.5" cy="548" rx="3.5" ry="9" fill="rgb(58,58,58)" filter="url(#b1p5_2)" transform="rotate(-15 337.5 548)"/><ellipse cx="345" cy="542" rx="4" ry="8" fill="rgb(185,185,185)" filter="url(#b1p5_2)"/><ellipse cx="354" cy="554" rx="5" ry="4" fill="rgb(45,45,45)" filter="url(#b1p5_1p5)"/><ellipse cx="363" cy="545" rx="3" ry="7" fill="rgb(185,185,185)" filter="url(#b1p5_2)"/><ellipse cx="368.5" cy="540" rx="3.5" ry="6" fill="rgb(224,224,224)" filter="url(#b1p5_2)"/><ellipse cx="381" cy="553" rx="4" ry="3" fill="rgb(64,64,64)" filter="url(#b1p5_1p5)"/><ellipse cx="388" cy="543" rx="4" ry="6" fill="rgb(249,249,249)" filter="url(#b1p5_2)"/><ellipse cx="400" cy="555" rx="6" ry="5" fill="rgb(58,58,58)" filter="url(#b1p5_1p5)"/><ellipse cx="262" cy="548" rx="3" ry="5" fill="rgb(154,154,154)" filter="url(#b1p5_2)"/><ellipse cx="311" cy="555.5" rx="10.5" ry="9.5" fill="rgb(0,0,0)" filter="url(#b1p5_1p5)"/><ellipse cx="475" cy="585" rx="16" ry="11" fill="rgb(99,99,99)" filter="url(#b4_3)"/><ellipse cx="501.6" cy="555" rx="6" ry="14" fill="rgb(96,96,96)" filter="url(#b2_3)"/><ellipse cx="501.6" cy="555.6" rx="4" ry="11" fill="rgb(20,20,20)" filter="url(#b1p5_3)"/><ellipse cx="472.7" cy="584.5" rx="8.5" ry="6" fill="rgb(0,0,0)" filter="url(#b2_2)"/><ellipse cx="466.4" cy="599.5" rx="16" ry="4" fill="rgb(192,192,192)" filter="url(#b4_2)"/><ellipse cx="580.7" cy="607.8" rx="14" ry="4" fill="rgb(192,192,192)" filter="url(#b4_2)"/><ellipse cx="486.5" cy="568" rx="4" ry="6" fill="rgb(166,166,166)" filter="url(#b2_2)"/><ellipse cx="450" cy="584" rx="6" ry="3" fill="rgb(160,160,160)" filter="url(#b2_2)"/><ellipse cx="528" cy="572" rx="6" ry="4" fill="rgb(90,90,90)" filter="url(#b2_2)"/><ellipse cx="425" cy="576" rx="12" ry="3" fill="rgb(166,166,166)" filter="url(#b4_2)"/><ellipse cx="460" cy="560" rx="3" ry="6" fill="rgb(96,96,96)" filter="url(#b1p5_2)"/><ellipse cx="420" cy="610" rx="20" ry="5" fill="rgb(102,102,102)" filter="url(#b5_2)"/>
</g></g>
<g transform="translate(0,0)">
<path d="M92.5,302.1 L94.54,301.78 L96.58,301.46 L98.62,301.61 L100.67,301 L102.71,301.13 L104.75,300.81 L106.79,300.39 L108.83,300.51 L110.88,299.98 L112.92,300.05 L114.96,299.6 L117,299.41 L119,299.48 L121,299.6 L123,298.94 L125,298.84 L127,298.96 L129,299.01 L131,298.59 L133,298.29 L135,298.53 L137,297.72 L139,298.12 L141,297.55 L143.08,297.34 L145.17,297.22 L147.25,297.24 L149.33,297.49 L151.42,296.93 L153.5,297.11 L155.58,297.04 L157.67,296.74 L159.75,296.76 L161.83,296.31 L163.92,296.2 L166,296.19 L168.1,296.49 L170.2,296.27 L172.3,296.15 L174.4,296.3 L176.5,296.17 L178.6,296.02 L180.7,296.33 L182.8,296.22 L184.9,295.86 L187,296.05 L189.25,296.62 L191.5,297.46 L193.75,297.96 L196,298.25 L198,298.85 L200,298.36 L202,298.69 L204,299.04 L206,298.73 L208,299.08 L210,298.88 L212,299.53 L214,299.81 L216,299.89 L218,300.31 L220,300.13 L222,300.61 L224,300.75 L226,300.96 L228,300.8 L230,301 L232,301 L234,300.6 L236,300.66 L238,300.16 L240,300.54 L242,298.9 L244,297.55 L246,299.48 L248,301.15 L250.33,301.09 L252.67,301.15 L255,300.57 L257,300.07 L259,299.07 L261,298.23 L263,297.39 L265.33,298.99 L267.67,299.64 L270,300.82 L272,300.06 L274,299.53 L276,298.11 L278,300.21 L280,302.13 L282.17,302.59 L284.33,302.76 L286.5,303 L288.67,302.81 L290.83,303.12 L293,303.3 L295.33,304.07 L297.67,304.52 L300,304.36 L302.5,305.62 L305,306.91 L307.5,309.36 L310,311.99 L312,315.21 L314,318.13 L316,322.3 L318,326.94 L321,334.31 L324,349.35 L327,364.52 L329,381.63 L330.5,397.61 L332,381.58 L334,356.82 L337,336.59 L340,326.08 L342,323.45 L344,320.96 L346,317.81 L348,314.42 L350,311.33 L352,308.02 L354,307.54 L356,306.29 L358,304.8 L360,303.4 L362,301.86 L364,301.06 L366,299.94 L368,298.98 L370,298.16 L372,297.64 L374,297.34 L376,296.63 L378,296.74 L380,296.08 L382,295.5 L384,295.31 L386,295.12 L388,294.88 L390,294.45 L392,294.7 L394,294.55 L396,294.09 L398,294.01 L400,293.65 L402,293.57 L404,293.65 L406,293.51 L408,293.82 L410,293.26 L412.14,293.01 L414.29,293.5 L416.43,293.05 L418.57,292.62 L420.71,292.74 L422.86,292.23 L425,292.42 L427.08,292.63 L429.17,292.44 L431.25,292.21 L433.33,291.8 L435.42,291.77 L437.5,291.52 L439.58,291.83 L441.67,291.56 L443.75,291.62 L445.83,291.2 L447.92,291.01 L450,291.32 L452,291.49 L454,291.45 L456,291.46 L458,291.52 L460,291.52 L462,291.21 L464,291.46 L466,291.4 L468,291.22 L470,291.27 L472,291.34 L474,291.22 L476,291.41 L478,291.49 L480,291.03 L482,291.27 L484,291.19 L486,291.07 L488,290.55 L490,290.34 L492,290.24 L494,290.11 L496,290.01 L498,290.19 L500,290.28 L502,290.18 L504,289.87 L506,289.93 L508,289.97 L510,289.41 L512,289.75 L514,289.87 L516,289.72 L518,289.64 L520,289.38 L522,289.11 L524,289.48 L526,289.1 L528,289.37 L530,289.43 L532,288.99 L534,288.96 L536,289.31 L538,289.12 L540,288.7 L542,288.64 L544,288.62 L546,289.12 L548,289.01 L550,288.52 L552,288.96 L554,289.04 L556,288.78 L558,288.53 L560,288.63 L562.06,288.31 L564.12,288.2 L566.18,288.84 L568.24,288.59 L570.29,288.47 L572.35,288.73 L574.41,288.35 L576.47,288.62 L578.53,288.56 L580.59,288.1 L582.65,288.1 L584.71,288.1 L586.76,288.04 L588.82,288.25 L590.88,287.99 L592.94,288.07 L595,288.1" fill="none" stroke="#000" stroke-width="2.0" stroke-linejoin="round" stroke-linecap="round" />
</g>
<path d="M92.6,368.3 H595" stroke="#0000ff" stroke-width="2" stroke-dasharray="4.5 4.3"/>
<g transform="translate(0,127.6)">
<path d="M92.5,302.1 L94.54,301.78 L96.58,301.46 L98.62,301.61 L100.67,301 L102.71,301.13 L104.75,300.81 L106.79,300.39 L108.83,300.51 L110.88,299.98 L112.92,300.05 L114.96,299.6 L117,299.41 L119,299.48 L121,299.6 L123,298.94 L125,298.84 L127,298.96 L129,299.01 L131,298.59 L133,298.29 L135,298.53 L137,297.72 L139,298.12 L141,297.55 L143.08,297.34 L145.17,297.22 L147.25,297.24 L149.33,297.49 L151.42,296.93 L153.5,297.11 L155.58,297.04 L157.67,296.74 L159.75,296.76 L161.83,296.31 L163.92,296.2 L166,296.19 L168.1,296.49 L170.2,296.27 L172.3,296.15 L174.4,296.3 L176.5,296.17 L178.6,296.02 L180.7,296.33 L182.8,296.22 L184.9,295.86 L187,296.05 L189.25,296.62 L191.5,297.46 L193.75,297.96 L196,298.25 L198,298.85 L200,298.36 L202,298.69 L204,299.04 L206,298.73 L208,299.08 L210,298.88 L212,299.53 L214,299.81 L216,299.89 L218,300.31 L220,300.13 L222,300.61 L224,300.75 L226,300.96 L228,300.8 L230,301 L232,301 L234,300.6 L236,300.66 L238,300.16 L240,300.54 L242,298.9 L244,297.55 L246,299.48 L248,301.15 L250.33,301.09 L252.67,301.15 L255,300.57 L257,300.07 L259,299.07 L261,298.23 L263,297.39 L265.33,298.99 L267.67,299.64 L270,300.82 L272,300.06 L274,299.53 L276,298.11 L278,300.21 L280,302.13 L282.17,302.59 L284.33,302.76 L286.5,303 L288.67,302.81 L290.83,303.12 L293,303.3 L295.33,304.07 L297.67,304.52 L300,304.36 L302.5,305.62 L305,306.91 L307.5,309.36 L310,311.99 L312,315.21 L314,318.13 L316,322.3 L318,326.94 L321,334.31 L324,349.35 L327,364.52 L329,381.63 L330.5,397.61 L332,381.58 L334,356.82 L337,336.59 L340,326.08 L342,323.45 L344,320.96 L346,317.81 L348,314.42 L350,311.33 L352,308.02 L354,307.54 L356,306.29 L358,304.8 L360,303.4 L362,301.86 L364,301.06 L366,299.94 L368,298.98 L370,298.16 L372,297.64 L374,297.34 L376,296.63 L378,296.74 L380,296.08 L382,295.5 L384,295.31 L386,295.12 L388,294.88 L390,294.45 L392,294.7 L394,294.55 L396,294.09 L398,294.01 L400,293.65 L402,293.57 L404,293.65 L406,293.51 L408,293.82 L410,293.26 L412.14,293.01 L414.29,293.5 L416.43,293.05 L418.57,292.62 L420.71,292.74 L422.86,292.23 L425,292.42 L427.08,292.63 L429.17,292.44 L431.25,292.21 L433.33,291.8 L435.42,291.77 L437.5,291.52 L439.58,291.83 L441.67,291.56 L443.75,291.62 L445.83,291.2 L447.92,291.01 L450,291.32 L452,291.49 L454,291.45 L456,291.46 L458,291.52 L460,291.52 L462,291.21 L464,291.46 L466,291.4 L468,291.22 L470,291.27 L472,291.34 L474,291.22 L476,291.41 L478,291.49 L480,291.03 L482,291.27 L484,291.19 L486,291.07 L488,290.55 L490,290.34 L492,290.24 L494,290.11 L496,290.01 L498,290.19 L500,290.28 L502,290.18 L504,289.87 L506,289.93 L508,289.97 L510,289.41 L512,289.75 L514,289.87 L516,289.72 L518,289.64 L520,289.38 L522,289.11 L524,289.48 L526,289.1 L528,289.37 L530,289.43 L532,288.99 L534,288.96 L536,289.31 L538,289.12 L540,288.7 L542,288.64 L544,288.62 L546,289.12 L548,289.01 L550,288.52 L552,288.96 L554,289.04 L556,288.78 L558,288.53 L560,288.63 L562.06,288.31 L564.12,288.2 L566.18,288.84 L568.24,288.59 L570.29,288.47 L572.35,288.73 L574.41,288.35 L576.47,288.62 L578.53,288.56 L580.59,288.1 L582.65,288.1 L584.71,288.1 L586.76,288.04 L588.82,288.25 L590.88,287.99 L592.94,288.07 L595,288.1" fill="none" stroke="#000" stroke-width="2.0" stroke-linejoin="round" stroke-linecap="round" />
</g>
<path d="M92.6,495.9 H595" stroke="#0000ff" stroke-width="2" stroke-dasharray="4.5 4.3"/>
<g transform="translate(0,255.5)">
<path d="M92.5,302.1 L94.54,301.78 L96.58,301.46 L98.62,301.61 L100.67,301 L102.71,301.13 L104.75,300.81 L106.79,300.39 L108.83,300.51 L110.88,299.98 L112.92,300.05 L114.96,299.6 L117,299.41 L119,299.48 L121,299.6 L123,298.94 L125,298.84 L127,298.96 L129,299.01 L131,298.59 L133,298.29 L135,298.53 L137,297.72 L139,298.12 L141,297.55 L143.08,297.34 L145.17,297.22 L147.25,297.24 L149.33,297.49 L151.42,296.93 L153.5,297.11 L155.58,297.04 L157.67,296.74 L159.75,296.76 L161.83,296.31 L163.92,296.2 L166,296.19 L168.1,296.49 L170.2,296.27 L172.3,296.15 L174.4,296.3 L176.5,296.17 L178.6,296.02 L180.7,296.33 L182.8,296.22 L184.9,295.86 L187,296.05 L189.25,296.62 L191.5,297.46 L193.75,297.96 L196,298.25 L198,298.85 L200,298.36 L202,298.69 L204,299.04 L206,298.73 L208,299.08 L210,298.88 L212,299.53 L214,299.81 L216,299.89 L218,300.31 L220,300.13 L222,300.61 L224,300.75 L226,300.96 L228,300.8 L230,301 L232,301 L234,300.6 L236,300.66 L238,300.16 L240,300.54 L242,298.9 L244,297.55 L246,299.48 L248,301.15 L250.33,301.09 L252.67,301.15 L255,300.57 L257,300.07 L259,299.07 L261,298.23 L263,297.39 L265.33,298.99 L267.67,299.64 L270,300.82 L272,300.06 L274,299.53 L276,298.11 L278,300.21 L280,302.13 L282.17,302.59 L284.33,302.76 L286.5,303 L288.67,302.81 L290.83,303.12 L293,303.3 L295.33,304.07 L297.67,304.52 L300,304.36 L302.5,305.62 L305,306.91 L307.5,309.36 L310,311.99 L312,315.21 L314,318.13 L316,322.3 L318,326.94 L321,334.31 L324,349.35 L327,364.52 L329,381.63 L330.5,397.61 L332,381.58 L334,356.82 L337,336.59 L340,326.08 L342,323.45 L344,320.96 L346,317.81 L348,314.42 L350,311.33 L352,308.02 L354,307.54 L356,306.29 L358,304.8 L360,303.4 L362,301.86 L364,301.06 L366,299.94 L368,298.98 L370,298.16 L372,297.64 L374,297.34 L376,296.63 L378,296.74 L380,296.08 L382,295.5 L384,295.31 L386,295.12 L388,294.88 L390,294.45 L392,294.7 L394,294.55 L396,294.09 L398,294.01 L400,293.65 L402,293.57 L404,293.65 L406,293.51 L408,293.82 L410,293.26 L412.14,293.01 L414.29,293.5 L416.43,293.05 L418.57,292.62 L420.71,292.74 L422.86,292.23 L425,292.42 L427.08,292.63 L429.17,292.44 L431.25,292.21 L433.33,291.8 L435.42,291.77 L437.5,291.52 L439.58,291.83 L441.67,291.56 L443.75,291.62 L445.83,291.2 L447.92,291.01 L450,291.32 L452,291.49 L454,291.45 L456,291.46 L458,291.52 L460,291.52 L462,291.21 L464,291.46 L466,291.4 L468,291.22 L470,291.27 L472,291.34 L474,291.22 L476,291.41 L478,291.49 L480,291.03 L482,291.27 L484,291.19 L486,291.07 L488,290.55 L490,290.34 L492,290.24 L494,290.11 L496,290.01 L498,290.19 L500,290.28 L502,290.18 L504,289.87 L506,289.93 L508,289.97 L510,289.41 L512,289.75 L514,289.87 L516,289.72 L518,289.64 L520,289.38 L522,289.11 L524,289.48 L526,289.1 L528,289.37 L530,289.43 L532,288.99 L534,288.96 L536,289.31 L538,289.12 L540,288.7 L542,288.64 L544,288.62 L546,289.12 L548,289.01 L550,288.52 L552,288.96 L554,289.04 L556,288.78 L558,288.53 L560,288.63 L562.06,288.31 L564.12,288.2 L566.18,288.84 L568.24,288.59 L570.29,288.47 L572.35,288.73 L574.41,288.35 L576.47,288.62 L578.53,288.56 L580.59,288.1 L582.65,288.1 L584.71,288.1 L586.76,288.04 L588.82,288.25 L590.88,287.99 L592.94,288.07 L595,288.1" fill="none" stroke="#000" stroke-width="2.0" stroke-linejoin="round" stroke-linecap="round" />
</g>
<path d="M92.6,623.8 H595" stroke="#0000ff" stroke-width="2" stroke-dasharray="4.5 4.3"/>
<path d="M293.5,16.4 V655.6" stroke="#ff00ff" stroke-width="2" stroke-dasharray="14.5 14.5" stroke-dashoffset="5.9"/>
<path d="M394,16.4 V655.6" stroke="#ff00ff" stroke-width="2" stroke-dasharray="14.5 14.5" stroke-dashoffset="5.9"/>
<path d="M292.5,17.2 H395" stroke="#ff00ff" stroke-width="2" stroke-dasharray="17.2 17.2" stroke-dashoffset="9.2"/>
<path d="M292.5,654.6 H395" stroke="#ff00ff" stroke-width="2" stroke-dasharray="17.2 17.2" stroke-dashoffset="9.2"/>
<path d="M92.6,16.5 H595 M92.6,144.3 H595 M92.6,271.9 H595 M92.6,16.5 V279.6 M595,16.5 V279.6 M92.6,399.5 H595 M92.6,399.5 V407.2 M595,399.5 V407.2 M92.6,527.4 H595 M92.6,527.4 V535.1 M595,527.4 V535.1 M92.6,16.5 V21.5 M92.6,144.2 V139.2 M92.6,144.3 V149.3 M92.6,272 V267 M92.6,271.9 V266.9 M92.6,399.5 V394.5 M92.6,527.4 V522.4 M92.6,655.1 V660.6 M126.09,16.5 V21.5 M126.09,144.2 V139.2 M126.09,144.3 V149.3 M126.09,272 V267 M126.09,271.9 V266.9 M126.09,399.5 V394.5 M126.09,527.4 V522.4 M126.09,655.1 V660.6 M159.59,16.5 V21.5 M159.59,144.2 V139.2 M159.59,144.3 V149.3 M159.59,272 V267 M159.59,271.9 V266.9 M159.59,399.5 V394.5 M159.59,527.4 V522.4 M159.59,655.1 V660.6 M193.08,16.5 V21.5 M193.08,144.2 V139.2 M193.08,144.3 V149.3 M193.08,272 V267 M193.08,271.9 V266.9 M193.08,399.5 V394.5 M193.08,527.4 V522.4 M193.08,655.1 V660.6 M226.57,16.5 V21.5 M226.57,144.2 V139.2 M226.57,144.3 V149.3 M226.57,272 V267 M226.57,271.9 V266.9 M226.57,399.5 V394.5 M226.57,527.4 V522.4 M226.57,655.1 V660.6 M260.07,16.5 V21.5 M260.07,144.2 V139.2 M260.07,144.3 V149.3 M260.07,272 V267 M260.07,271.9 V266.9 M260.07,399.5 V394.5 M260.07,527.4 V522.4 M260.07,655.1 V660.6 M293.56,16.5 V21.5 M293.56,144.2 V139.2 M293.56,144.3 V149.3 M293.56,272 V267 M293.56,271.9 V266.9 M293.56,399.5 V394.5 M293.56,527.4 V522.4 M293.56,655.1 V660.6 M327.05,16.5 V21.5 M327.05,144.2 V139.2 M327.05,144.3 V149.3 M327.05,272 V267 M327.05,271.9 V266.9 M327.05,399.5 V394.5 M327.05,527.4 V522.4 M327.05,655.1 V660.6 M360.55,16.5 V21.5 M360.55,144.2 V139.2 M360.55,144.3 V149.3 M360.55,272 V267 M360.55,271.9 V266.9 M360.55,399.5 V394.5 M360.55,527.4 V522.4 M360.55,655.1 V660.6 M394.04,16.5 V21.5 M394.04,144.2 V139.2 M394.04,144.3 V149.3 M394.04,272 V267 M394.04,271.9 V266.9 M394.04,399.5 V394.5 M394.04,527.4 V522.4 M394.04,655.1 V660.6 M427.53,16.5 V21.5 M427.53,144.2 V139.2 M427.53,144.3 V149.3 M427.53,272 V267 M427.53,271.9 V266.9 M427.53,399.5 V394.5 M427.53,527.4 V522.4 M427.53,655.1 V660.6 M461.03,16.5 V21.5 M461.03,144.2 V139.2 M461.03,144.3 V149.3 M461.03,272 V267 M461.03,271.9 V266.9 M461.03,399.5 V394.5 M461.03,527.4 V522.4 M461.03,655.1 V660.6 M494.52,16.5 V21.5 M494.52,144.2 V139.2 M494.52,144.3 V149.3 M494.52,272 V267 M494.52,271.9 V266.9 M494.52,399.5 V394.5 M494.52,527.4 V522.4 M494.52,655.1 V660.6 M528.01,16.5 V21.5 M528.01,144.2 V139.2 M528.01,144.3 V149.3 M528.01,272 V267 M528.01,271.9 V266.9 M528.01,399.5 V394.5 M528.01,527.4 V522.4 M528.01,655.1 V660.6 M561.51,16.5 V21.5 M561.51,144.2 V139.2 M561.51,144.3 V149.3 M561.51,272 V267 M561.51,271.9 V266.9 M561.51,399.5 V394.5 M561.51,527.4 V522.4 M561.51,655.1 V660.6 M595,16.5 V21.5 M595,144.2 V139.2 M595,144.3 V149.3 M595,272 V267 M595,271.9 V266.9 M595,399.5 V394.5 M595,527.4 V522.4 M595,655.1 V660.6 M92.6,52.99 H97.6 M595,52.99 H590 M92.6,89.47 H97.6 M595,89.47 H590 M92.6,125.96 H97.6 M595,125.96 H590 M92.6,176.23 H97.6 M595,176.23 H590 M92.6,208.15 H97.6 M595,208.15 H590 M92.6,240.07 H97.6 M595,240.07 H590" stroke="#3a3a3a" stroke-width="1" fill="none"/>
<path d="M92.1,392.38 H89.3 M595,392.38 H597.8 M92.1,386.05 H89.3 M595,386.05 H597.8 M92.1,380.69 H89.3 M595,380.69 H597.8 M92.1,376.05 H89.3 M595,376.05 H597.8 M92.1,371.96 H89.3 M595,371.96 H597.8 M92.1,368.3 H87.1 M595,368.3 H600 M92.1,344.22 H89.3 M595,344.22 H597.8 M92.1,330.13 H89.3 M595,330.13 H597.8 M92.1,320.14 H89.3 M595,320.14 H597.8 M92.1,312.38 H89.3 M595,312.38 H597.8 M92.1,306.05 H89.3 M595,306.05 H597.8 M92.1,300.69 H89.3 M595,300.69 H597.8 M92.1,296.05 H89.3 M595,296.05 H597.8 M92.1,291.96 H89.3 M595,291.96 H597.8 M92.1,288.3 H87.1 M595,288.3 H600 M92.1,519.98 H89.3 M595,519.98 H597.8 M92.1,513.65 H89.3 M595,513.65 H597.8 M92.1,508.29 H89.3 M595,508.29 H597.8 M92.1,503.65 H89.3 M595,503.65 H597.8 M92.1,499.56 H89.3 M595,499.56 H597.8 M92.1,495.9 H87.1 M595,495.9 H600 M92.1,471.82 H89.3 M595,471.82 H597.8 M92.1,457.73 H89.3 M595,457.73 H597.8 M92.1,447.74 H89.3 M595,447.74 H597.8 M92.1,439.98 H89.3 M595,439.98 H597.8 M92.1,433.65 H89.3 M595,433.65 H597.8 M92.1,428.29 H89.3 M595,428.29 H597.8 M92.1,423.65 H89.3 M595,423.65 H597.8 M92.1,419.56 H89.3 M595,419.56 H597.8 M92.1,415.9 H87.1 M595,415.9 H600 M92.1,647.88 H89.3 M595,647.88 H597.8 M92.1,641.55 H89.3 M595,641.55 H597.8 M92.1,636.19 H89.3 M595,636.19 H597.8 M92.1,631.55 H89.3 M595,631.55 H597.8 M92.1,627.46 H89.3 M595,627.46 H597.8 M92.1,623.8 H87.1 M595,623.8 H600 M92.1,599.72 H89.3 M595,599.72 H597.8 M92.1,585.63 H89.3 M595,585.63 H597.8 M92.1,575.64 H89.3 M595,575.64 H597.8 M92.1,567.88 H89.3 M595,567.88 H597.8 M92.1,561.55 H89.3 M595,561.55 H597.8 M92.1,556.19 H89.3 M595,556.19 H597.8 M92.1,551.55 H89.3 M595,551.55 H597.8 M92.1,547.46 H89.3 M595,547.46 H597.8 M92.1,543.8 H87.1 M595,543.8 H600" stroke="#3a3a3a" stroke-width="1" fill="none"/>
<text x="70.45" y="58.5" font-family="Liberation Sans" font-size="17.1" fill="#262626" text-anchor="start">10</text>
<text x="77.63" y="95.3" font-family="Liberation Sans" font-size="17.1" fill="#262626" text-anchor="start">0</text>
<text x="65.24" y="131.8" font-family="Liberation Sans" font-size="17.1" fill="#262626" text-anchor="start">-10</text>
<text x="57.33" y="149.8" font-family="Liberation Sans" font-size="17.1" fill="#262626" text-anchor="start">0.03</text>
<text x="57.53" y="182" font-family="Liberation Sans" font-size="17.1" fill="#262626" text-anchor="start">0.02</text>
<text x="57.33" y="214.2" font-family="Liberation Sans" font-size="17.1" fill="#262626" text-anchor="start">0.01</text>
<text x="77.43" y="246" font-family="Liberation Sans" font-size="17.1" fill="#262626" text-anchor="start">0</text>
<text x="53.24" y="278" font-family="Liberation Sans" font-size="17.1" fill="#262626" text-anchor="start">-0.01</text>
<text x="55.6" y="295.8" font-family="Liberation Sans" font-size="17.1" fill="#262626" text-anchor="start">10</text>
<text x="74.2" y="289.1" font-family="Liberation Sans" font-size="14.5" fill="#262626" text-anchor="start">1</text>
<text x="55.6" y="375.8" font-family="Liberation Sans" font-size="17.1" fill="#262626" text-anchor="start">10</text>
<text x="74.03" y="369.1" font-family="Liberation Sans" font-size="14.5" fill="#262626" text-anchor="start">0</text>
<text x="55.6" y="423.4" font-family="Liberation Sans" font-size="17.1" fill="#262626" text-anchor="start">10</text>
<text x="74.2" y="416.7" font-family="Liberation Sans" font-size="14.5" fill="#262626" text-anchor="start">1</text>
<text x="55.6" y="503.4" font-family="Liberation Sans" font-size="17.1" fill="#262626" text-anchor="start">10</text>
<text x="74.03" y="496.7" font-family="Liberation Sans" font-size="14.5" fill="#262626" text-anchor="start">0</text>
<text x="55.6" y="551.3" font-family="Liberation Sans" font-size="17.1" fill="#262626" text-anchor="start">10</text>
<text x="74.2" y="544.6" font-family="Liberation Sans" font-size="14.5" fill="#262626" text-anchor="start">1</text>
<text x="55.6" y="631.3" font-family="Liberation Sans" font-size="17.1" fill="#262626" text-anchor="start">10</text>
<text x="74.03" y="624.6" font-family="Liberation Sans" font-size="14.5" fill="#262626" text-anchor="start">0</text>
<text x="64.59" y="678.1" font-family="Liberation Sans" font-size="14.25" fill="#262626" text-anchor="start">20:24:00</text>
<text x="232.07" y="678.1" font-family="Liberation Sans" font-size="14.25" fill="#262626" text-anchor="start">20:24:05</text>
<text x="399.52" y="678.1" font-family="Liberation Sans" font-size="14.25" fill="#262626" text-anchor="start">20:24:10</text>
<text x="567.01" y="678.1" font-family="Liberation Sans" font-size="14.25" fill="#262626" text-anchor="start">20:24:15</text>
<text x="285.73" y="696.4" font-family="Liberation Sans" font-size="15.5" fill="#262626" text-anchor="start">2017-06-17 UTC</text>
<text x="115.59" y="39.8" font-family="Liberation Sans" font-size="22.7" fill="#000" text-anchor="start">(a)</text>
<text x="115.59" y="167.6" font-family="Liberation Sans" font-size="22.7" fill="#000" text-anchor="start">(b)</text>
<text x="115.59" y="295.2" font-family="Liberation Sans" font-size="22.7" fill="#000" text-anchor="start">(c)</text>
<text x="115.59" y="422.8" font-family="Liberation Sans" font-size="22.7" fill="#000" text-anchor="start">(d)</text>
<text x="115.59" y="550.7" font-family="Liberation Sans" font-size="22.7" fill="#000" text-anchor="start">(e)</text>
<text x="185.67" y="315.6" font-family="Liberation Sans" font-size="16.5" fill="#000" text-anchor="start">f</text>
<text x="189.87" y="319.3" font-family="Liberation Sans" font-size="12.6" fill="#000" text-anchor="start">LH</text>
<text x="188.97" y="443.7" font-family="Liberation Sans" font-size="16.5" fill="#000" text-anchor="start">f</text>
<text x="192.87" y="447.7" font-family="Liberation Sans" font-size="12.6" fill="#000" text-anchor="start">LH</text>
<text x="187.67" y="571.9" font-family="Liberation Sans" font-size="16.5" fill="#000" text-anchor="start">f</text>
<text x="191.87" y="575.6" font-family="Liberation Sans" font-size="12.6" fill="#000" text-anchor="start">LH</text>
<text transform="translate(19,86.77) rotate(-90)" font-family="Liberation Sans" font-size="18.6" fill="#262626" text-anchor="middle">B</text>
<text transform="translate(39.8,84.65) rotate(-90)" font-family="Liberation Sans" font-size="18.6" fill="#262626" text-anchor="middle">(nT)</text>
<text transform="translate(14.3,216.75) rotate(-90)" font-family="Liberation Sans" font-size="18.6" fill="#262626" text-anchor="middle">anomE</text>
<text transform="translate(20.6,176.85) rotate(-90)" font-family="Liberation Sans" font-size="13" fill="#262626" text-anchor="middle">M</text>
<text transform="translate(41.5,211.85) rotate(-90)" font-family="Liberation Sans" font-size="18.6" fill="#262626" text-anchor="middle">(mV/m)</text>
<text transform="translate(19.8,344.35) rotate(-90)" font-family="Liberation Sans" font-size="18.6" fill="#262626" text-anchor="middle">f</text>
<text transform="translate(40.9,341.2) rotate(-90)" font-family="Liberation Sans" font-size="18.6" fill="#262626" text-anchor="middle">(Hz)</text>
<text transform="translate(19.8,471.95) rotate(-90)" font-family="Liberation Sans" font-size="18.6" fill="#262626" text-anchor="middle">f</text>
<text transform="translate(40.9,468.8) rotate(-90)" font-family="Liberation Sans" font-size="18.6" fill="#262626" text-anchor="middle">(Hz)</text>
<text transform="translate(19.8,599.85) rotate(-90)" font-family="Liberation Sans" font-size="18.6" fill="#262626" text-anchor="middle">f</text>
<text transform="translate(40.9,596.7) rotate(-90)" font-family="Liberation Sans" font-size="18.6" fill="#262626" text-anchor="middle">(Hz)</text>
<text x="316.89" y="12.3" font-family="Liberation Sans" font-size="17.2" fill="#ff00ff" text-anchor="start">EDR 2</text>
<text x="604.48" y="167.5" font-family="Liberation Sans" font-size="18.3" font-weight="bold" fill="#000" text-anchor="start">R</text>
<text x="604.48" y="192.6" font-family="Liberation Sans" font-size="18.3" font-weight="bold" fill="#0000ff" text-anchor="start">D</text>
<text x="605.99" y="218" font-family="Liberation Sans" font-size="18.3" font-weight="bold" fill="#ff0000" text-anchor="start">T</text>
<text x="616.78" y="220.9" font-family="Liberation Sans" font-size="15.2" font-weight="bold" fill="#ff0000" text-anchor="start">ES</text>
<text x="605.99" y="243.3" font-family="Liberation Sans" font-size="18.3" font-weight="bold" fill="#008000" text-anchor="start">T</text>
<text x="616.98" y="251.2" font-family="Liberation Sans" font-size="15.2" font-weight="bold" fill="#008000" text-anchor="start">EM</text>
<rect x="610.4" y="278.7" width="15" height="114.9" fill="url(#cbar)" stroke="#555" stroke-width="1"/>
<text x="631.66" y="311.82" font-family="Liberation Sans" font-size="12.3" fill="#262626" text-anchor="start">1</text>
<text x="631.52" y="340.55" font-family="Liberation Sans" font-size="12.3" fill="#262626" text-anchor="start">0</text>
<text x="630.95" y="369.27" font-family="Liberation Sans" font-size="12.3" fill="#262626" text-anchor="start">-1</text>
<text x="630.95" y="398" font-family="Liberation Sans" font-size="12.3" fill="#262626" text-anchor="start">-2</text>
<path d="M625.4,278.7 H626.9 M625.4,307.42 H626.9 M625.4,336.15 H626.9 M625.4,364.88 H626.9 M625.4,393.6 H626.9" stroke="#555" stroke-width="1"/>
<text x="631.18" y="283.9" font-family="Liberation Sans" font-size="12.3" fill="#262626" text-anchor="start">2</text>
<text x="640.75" y="283.3" font-family="Liberation Sans" font-size="12.3" fill="#262626" text-anchor="start">×</text>
<text x="650.36" y="283.9" font-family="Liberation Sans" font-size="12.3" fill="#262626" text-anchor="start">10</text>
<text x="663.98" y="277.3" font-family="Liberation Sans" font-size="9.5" fill="#262626" text-anchor="start">-3</text>
<rect x="610.4" y="406.3" width="15" height="114.9" fill="url(#cbar)" stroke="#555" stroke-width="1"/>
<text x="631.66" y="439.43" font-family="Liberation Sans" font-size="12.3" fill="#262626" text-anchor="start">1</text>
<text x="631.52" y="468.15" font-family="Liberation Sans" font-size="12.3" fill="#262626" text-anchor="start">0</text>
<text x="630.95" y="496.88" font-family="Liberation Sans" font-size="12.3" fill="#262626" text-anchor="start">-1</text>
<text x="630.95" y="525.6" font-family="Liberation Sans" font-size="12.3" fill="#262626" text-anchor="start">-2</text>
<path d="M625.4,406.3 H626.9 M625.4,435.03 H626.9 M625.4,463.75 H626.9 M625.4,492.48 H626.9 M625.4,521.2 H626.9" stroke="#555" stroke-width="1"/>
<text x="631.18" y="411.5" font-family="Liberation Sans" font-size="12.3" fill="#262626" text-anchor="start">2</text>
<text x="640.75" y="410.9" font-family="Liberation Sans" font-size="12.3" fill="#262626" text-anchor="start">×</text>
<text x="650.36" y="411.5" font-family="Liberation Sans" font-size="12.3" fill="#262626" text-anchor="start">10</text>
<text x="663.98" y="404.9" font-family="Liberation Sans" font-size="9.5" fill="#262626" text-anchor="start">-3</text>
<rect x="610.4" y="534.2" width="15" height="114.9" fill="url(#cbar)" stroke="#555" stroke-width="1"/>
<text x="631.66" y="567.32" font-family="Liberation Sans" font-size="12.3" fill="#262626" text-anchor="start">1</text>
<text x="631.52" y="596.05" font-family="Liberation Sans" font-size="12.3" fill="#262626" text-anchor="start">0</text>
<text x="630.95" y="624.77" font-family="Liberation Sans" font-size="12.3" fill="#262626" text-anchor="start">-1</text>
<text x="630.95" y="653.5" font-family="Liberation Sans" font-size="12.3" fill="#262626" text-anchor="start">-2</text>
<path d="M625.4,534.2 H626.9 M625.4,562.92 H626.9 M625.4,591.65 H626.9 M625.4,620.38 H626.9 M625.4,649.1 H626.9" stroke="#555" stroke-width="1"/>
<text x="631.18" y="539.4" font-family="Liberation Sans" font-size="12.3" fill="#262626" text-anchor="start">2</text>
<text x="640.75" y="538.8" font-family="Liberation Sans" font-size="12.3" fill="#262626" text-anchor="start">×</text>
<text x="650.36" y="539.4" font-family="Liberation Sans" font-size="12.3" fill="#262626" text-anchor="start">10</text>
<text x="663.98" y="532.8" font-family="Liberation Sans" font-size="9.5" fill="#262626" text-anchor="start">-3</text>
<text transform="translate(659.9,338.36) rotate(-90)" font-family="Liberation Sans" font-size="12.5" fill="#262626" text-anchor="middle">&lt;n&gt;D</text>
<text transform="translate(666.3,315.4) rotate(-90)" font-family="Liberation Sans" font-size="10.4" fill="#262626" text-anchor="middle">M</text>
<text transform="translate(684.4,341.25) rotate(-90)" font-family="Liberation Sans" font-size="12.7" fill="#262626" text-anchor="middle">mV/m*cm</text>
<text transform="translate(678.3,309.1) rotate(-90)" font-family="Liberation Sans" font-size="10.4" fill="#262626" text-anchor="middle">-3</text>
<text transform="translate(659.9,476.76) rotate(-90)" font-family="Liberation Sans" font-size="12.5" fill="#262626" text-anchor="middle">&lt;n&gt;T</text>
<text transform="translate(666.3,449) rotate(-90)" font-family="Liberation Sans" font-size="10.4" fill="#262626" text-anchor="middle">ES,M</text>
<text transform="translate(684.4,469.15) rotate(-90)" font-family="Liberation Sans" font-size="12.7" fill="#262626" text-anchor="middle">mV/m*cm</text>
<text transform="translate(678.3,436.65) rotate(-90)" font-family="Liberation Sans" font-size="10.4" fill="#262626" text-anchor="middle">-3</text>
<text transform="translate(659.9,607.61) rotate(-90)" font-family="Liberation Sans" font-size="12.5" fill="#262626" text-anchor="middle">&lt;n&gt;T</text>
<text transform="translate(666.3,577.55) rotate(-90)" font-family="Liberation Sans" font-size="10.4" fill="#262626" text-anchor="middle">EM,M</text>
<text transform="translate(684.4,596) rotate(-90)" font-family="Liberation Sans" font-size="12.7" fill="#262626" text-anchor="middle">mV/m*cm</text>
<text transform="translate(678.3,564.1) rotate(-90)" font-family="Liberation Sans" font-size="10.4" fill="#262626" text-anchor="middle">-3</text>
</svg></body></html>
